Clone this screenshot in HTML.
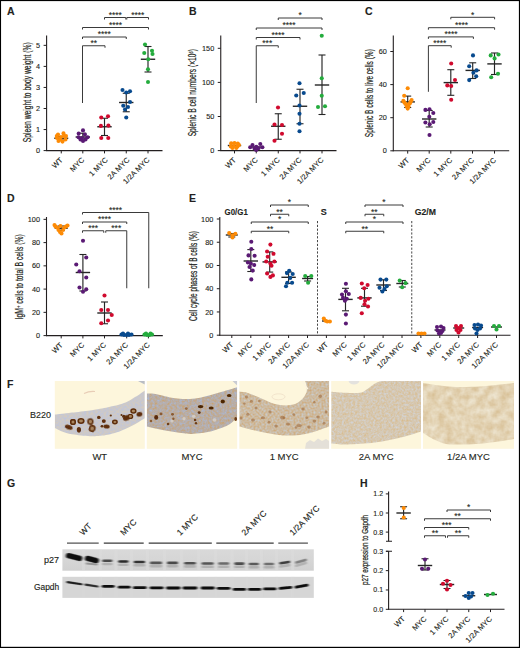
<!DOCTYPE html>
<html><head><meta charset="utf-8"><style>
html,body{margin:0;padding:0;background:#fff;}
svg{display:block;}
text{font-family:"Liberation Sans",sans-serif;}
</style></head><body>
<svg width="520" height="648" viewBox="0 0 520 648" style='font-family:"Liberation Sans",sans-serif'>
<rect x="0" y="0" width="520" height="648" fill="#fff"/>
<text x="7.1" y="15" font-size="10.5" text-anchor="start" font-weight="bold" fill="#231f20" stroke="#231f20" stroke-width="0.12">A</text>
<line x1="46.6" y1="35.5" x2="46.6" y2="151.1" stroke="#231f20" stroke-width="1.1"/>
<line x1="43.6" y1="150.6" x2="46.6" y2="150.6" stroke="#231f20" stroke-width="1"/>
<text x="40.1" y="153.2" font-size="7.3" text-anchor="end" fill="#231f20" stroke="#231f20" stroke-width="0.12">0</text>
<line x1="43.6" y1="129.55" x2="46.6" y2="129.55" stroke="#231f20" stroke-width="1"/>
<text x="40.1" y="132.15" font-size="7.3" text-anchor="end" fill="#231f20" stroke="#231f20" stroke-width="0.12">1</text>
<line x1="43.6" y1="108.5" x2="46.6" y2="108.5" stroke="#231f20" stroke-width="1"/>
<text x="40.1" y="111.1" font-size="7.3" text-anchor="end" fill="#231f20" stroke="#231f20" stroke-width="0.12">2</text>
<line x1="43.6" y1="87.45" x2="46.6" y2="87.45" stroke="#231f20" stroke-width="1"/>
<text x="40.1" y="90.05" font-size="7.3" text-anchor="end" fill="#231f20" stroke="#231f20" stroke-width="0.12">3</text>
<line x1="43.6" y1="66.4" x2="46.6" y2="66.4" stroke="#231f20" stroke-width="1"/>
<text x="40.1" y="69" font-size="7.3" text-anchor="end" fill="#231f20" stroke="#231f20" stroke-width="0.12">4</text>
<line x1="43.6" y1="45.35" x2="46.6" y2="45.35" stroke="#231f20" stroke-width="1"/>
<text x="40.1" y="47.95" font-size="7.3" text-anchor="end" fill="#231f20" stroke="#231f20" stroke-width="0.12">5</text>
<line x1="46.1" y1="150.6" x2="162.5" y2="150.6" stroke="#231f20" stroke-width="1.1"/>
<line x1="61.25" y1="150.6" x2="61.25" y2="153.4" stroke="#231f20" stroke-width="1"/>
<text x="63.25" y="160.5" font-size="7.5" text-anchor="end" fill="#231f20" stroke="#231f20" stroke-width="0.12" transform="rotate(-45 63.25 160.5)">WT</text>
<line x1="82.8" y1="150.6" x2="82.8" y2="153.4" stroke="#231f20" stroke-width="1"/>
<text x="84.8" y="160.5" font-size="7.5" text-anchor="end" fill="#231f20" stroke="#231f20" stroke-width="0.12" transform="rotate(-45 84.8 160.5)">MYC</text>
<line x1="104.5" y1="150.6" x2="104.5" y2="153.4" stroke="#231f20" stroke-width="1"/>
<text x="108.3" y="160.5" font-size="7.5" text-anchor="end" fill="#231f20" stroke="#231f20" stroke-width="0.12" transform="rotate(-45 108.3 160.5)">1 MYC</text>
<line x1="126.25" y1="150.6" x2="126.25" y2="153.4" stroke="#231f20" stroke-width="1"/>
<text x="130.05" y="160.5" font-size="7.5" text-anchor="end" fill="#231f20" stroke="#231f20" stroke-width="0.12" transform="rotate(-45 130.05 160.5)">2A MYC</text>
<line x1="148" y1="150.6" x2="148" y2="153.4" stroke="#231f20" stroke-width="1"/>
<text x="150" y="160.5" font-size="7.5" text-anchor="end" fill="#231f20" stroke="#231f20" stroke-width="0.12" transform="rotate(-45 150 160.5)">1/2A MYC</text>
<text x="31.5" y="92.2" font-size="10" text-anchor="middle" textLength="100" lengthAdjust="spacingAndGlyphs" fill="#231f20" stroke="#231f20" stroke-width="0.22" transform="rotate(-90 31.5 92.2)">Spleen weight to body weight (%)</text>
<line x1="61.25" y1="136.5" x2="61.25" y2="140" stroke="#262626" stroke-width="1.15"/>
<line x1="57.75" y1="136.5" x2="64.75" y2="136.5" stroke="#262626" stroke-width="1.1"/>
<line x1="57.75" y1="140" x2="64.75" y2="140" stroke="#262626" stroke-width="1.1"/>
<line x1="54.25" y1="138.25" x2="68.25" y2="138.25" stroke="#262626" stroke-width="1.4"/>
<line x1="82.8" y1="133.25" x2="82.8" y2="140.5" stroke="#262626" stroke-width="1.15"/>
<line x1="79.3" y1="133.25" x2="86.3" y2="133.25" stroke="#262626" stroke-width="1.1"/>
<line x1="79.3" y1="140.5" x2="86.3" y2="140.5" stroke="#262626" stroke-width="1.1"/>
<line x1="75.6" y1="137" x2="90" y2="137" stroke="#262626" stroke-width="1.4"/>
<line x1="104.5" y1="118.25" x2="104.5" y2="135.5" stroke="#262626" stroke-width="1.15"/>
<line x1="101" y1="118.25" x2="108" y2="118.25" stroke="#262626" stroke-width="1.1"/>
<line x1="101" y1="135.5" x2="108" y2="135.5" stroke="#262626" stroke-width="1.1"/>
<line x1="97.3" y1="126.75" x2="111.7" y2="126.75" stroke="#262626" stroke-width="1.4"/>
<line x1="126.25" y1="93.25" x2="126.25" y2="111.75" stroke="#262626" stroke-width="1.15"/>
<line x1="122.75" y1="93.25" x2="129.75" y2="93.25" stroke="#262626" stroke-width="1.1"/>
<line x1="122.75" y1="111.75" x2="129.75" y2="111.75" stroke="#262626" stroke-width="1.1"/>
<line x1="119.05" y1="102.5" x2="133.45" y2="102.5" stroke="#262626" stroke-width="1.4"/>
<line x1="148" y1="46.5" x2="148" y2="72" stroke="#262626" stroke-width="1.15"/>
<line x1="144.5" y1="46.5" x2="151.5" y2="46.5" stroke="#262626" stroke-width="1.1"/>
<line x1="144.5" y1="72" x2="151.5" y2="72" stroke="#262626" stroke-width="1.1"/>
<line x1="140.8" y1="59.25" x2="155.2" y2="59.25" stroke="#262626" stroke-width="1.4"/>
<path d="M82.5 103V45.75H105V47.75" fill="none" stroke="#3a3a3a" stroke-width="1" stroke-linejoin="round"/>
<text x="93.75" y="46.05" font-size="8.4" text-anchor="middle" fill="#231f20" stroke="#231f20" stroke-width="0.12">**</text>
<path d="M82.5 39V37H126.25V39" fill="none" stroke="#3a3a3a" stroke-width="1" stroke-linejoin="round"/>
<text x="104.38" y="37.3" font-size="8.4" text-anchor="middle" fill="#231f20" stroke="#231f20" stroke-width="0.12">****</text>
<path d="M82.5 29.5V27.5H148.5V29.5" fill="none" stroke="#3a3a3a" stroke-width="1" stroke-linejoin="round"/>
<text x="115.5" y="27.8" font-size="8.4" text-anchor="middle" fill="#231f20" stroke="#231f20" stroke-width="0.12">****</text>
<path d="M104.5 19.5V17.5H125.8V19.5" fill="none" stroke="#3a3a3a" stroke-width="1" stroke-linejoin="round"/>
<text x="115.15" y="17.8" font-size="8.4" text-anchor="middle" fill="#231f20" stroke="#231f20" stroke-width="0.12">****</text>
<path d="M126.8 19.5V17.5H148.5V19.5" fill="none" stroke="#3a3a3a" stroke-width="1" stroke-linejoin="round"/>
<text x="137.65" y="17.8" font-size="8.4" text-anchor="middle" fill="#231f20" stroke="#231f20" stroke-width="0.12">****</text>
<text x="189.1" y="15" font-size="10.5" text-anchor="start" font-weight="bold" fill="#231f20" stroke="#231f20" stroke-width="0.12">B</text>
<line x1="220.75" y1="35.5" x2="220.75" y2="151.1" stroke="#231f20" stroke-width="1.1"/>
<line x1="217.75" y1="150.6" x2="220.75" y2="150.6" stroke="#231f20" stroke-width="1"/>
<text x="214.25" y="153.2" font-size="7.3" text-anchor="end" fill="#231f20" stroke="#231f20" stroke-width="0.12">0</text>
<line x1="217.75" y1="116.5" x2="220.75" y2="116.5" stroke="#231f20" stroke-width="1"/>
<text x="214.25" y="119.1" font-size="7.3" text-anchor="end" fill="#231f20" stroke="#231f20" stroke-width="0.12">50</text>
<line x1="217.75" y1="82.4" x2="220.75" y2="82.4" stroke="#231f20" stroke-width="1"/>
<text x="214.25" y="85" font-size="7.3" text-anchor="end" fill="#231f20" stroke="#231f20" stroke-width="0.12">100</text>
<line x1="217.75" y1="48.3" x2="220.75" y2="48.3" stroke="#231f20" stroke-width="1"/>
<text x="214.25" y="50.9" font-size="7.3" text-anchor="end" fill="#231f20" stroke="#231f20" stroke-width="0.12">150</text>
<line x1="220.25" y1="150.6" x2="336.5" y2="150.6" stroke="#231f20" stroke-width="1.1"/>
<line x1="234.5" y1="150.6" x2="234.5" y2="153.4" stroke="#231f20" stroke-width="1"/>
<text x="236.5" y="160.5" font-size="7.5" text-anchor="end" fill="#231f20" stroke="#231f20" stroke-width="0.12" transform="rotate(-45 236.5 160.5)">WT</text>
<line x1="256.25" y1="150.6" x2="256.25" y2="153.4" stroke="#231f20" stroke-width="1"/>
<text x="258.25" y="160.5" font-size="7.5" text-anchor="end" fill="#231f20" stroke="#231f20" stroke-width="0.12" transform="rotate(-45 258.25 160.5)">MYC</text>
<line x1="278.25" y1="150.6" x2="278.25" y2="153.4" stroke="#231f20" stroke-width="1"/>
<text x="280.25" y="160.5" font-size="7.5" text-anchor="end" fill="#231f20" stroke="#231f20" stroke-width="0.12" transform="rotate(-45 280.25 160.5)">1 MYC</text>
<line x1="300" y1="150.6" x2="300" y2="153.4" stroke="#231f20" stroke-width="1"/>
<text x="302" y="160.5" font-size="7.5" text-anchor="end" fill="#231f20" stroke="#231f20" stroke-width="0.12" transform="rotate(-45 302 160.5)">2A MYC</text>
<line x1="322" y1="150.6" x2="322" y2="153.4" stroke="#231f20" stroke-width="1"/>
<text x="324" y="160.5" font-size="7.5" text-anchor="end" fill="#231f20" stroke="#231f20" stroke-width="0.12" transform="rotate(-45 324 160.5)">1/2A MYC</text>
<text x="196" y="92.7" font-size="10" text-anchor="middle" textLength="87.3" lengthAdjust="spacingAndGlyphs" fill="#231f20" stroke="#231f20" stroke-width="0.22" transform="rotate(-90 196 92.7)">Splenic B cell numbers (×10<tspan font-size="6" dy="-3">6</tspan><tspan dy="3">)</tspan></text>
<line x1="227.8" y1="145.5" x2="241.2" y2="145.5" stroke="#262626" stroke-width="1.4"/>
<line x1="249.55" y1="147" x2="262.95" y2="147" stroke="#262626" stroke-width="1.4"/>
<line x1="278.25" y1="113.75" x2="278.25" y2="139.25" stroke="#262626" stroke-width="1.15"/>
<line x1="274.75" y1="113.75" x2="281.75" y2="113.75" stroke="#262626" stroke-width="1.1"/>
<line x1="274.75" y1="139.25" x2="281.75" y2="139.25" stroke="#262626" stroke-width="1.1"/>
<line x1="271.05" y1="126.25" x2="285.45" y2="126.25" stroke="#262626" stroke-width="1.4"/>
<line x1="300" y1="89.25" x2="300" y2="123.75" stroke="#262626" stroke-width="1.15"/>
<line x1="296.5" y1="89.25" x2="303.5" y2="89.25" stroke="#262626" stroke-width="1.1"/>
<line x1="296.5" y1="123.75" x2="303.5" y2="123.75" stroke="#262626" stroke-width="1.1"/>
<line x1="292.8" y1="106.25" x2="307.2" y2="106.25" stroke="#262626" stroke-width="1.4"/>
<line x1="322" y1="55" x2="322" y2="114.5" stroke="#262626" stroke-width="1.15"/>
<line x1="318.5" y1="55" x2="325.5" y2="55" stroke="#262626" stroke-width="1.1"/>
<line x1="318.5" y1="114.5" x2="325.5" y2="114.5" stroke="#262626" stroke-width="1.1"/>
<line x1="314.8" y1="85" x2="329.2" y2="85" stroke="#262626" stroke-width="1.4"/>
<path d="M256.25 103V45.75H278.25V47.75" fill="none" stroke="#3a3a3a" stroke-width="1" stroke-linejoin="round"/>
<text x="267.25" y="46.05" font-size="8.4" text-anchor="middle" fill="#231f20" stroke="#231f20" stroke-width="0.12">***</text>
<path d="M256.25 39.5V37.5H300V39.5" fill="none" stroke="#3a3a3a" stroke-width="1" stroke-linejoin="round"/>
<text x="278.12" y="37.8" font-size="8.4" text-anchor="middle" fill="#231f20" stroke="#231f20" stroke-width="0.12">****</text>
<path d="M256.25 30V28H322V30" fill="none" stroke="#3a3a3a" stroke-width="1" stroke-linejoin="round"/>
<text x="289.12" y="28.3" font-size="8.4" text-anchor="middle" fill="#231f20" stroke="#231f20" stroke-width="0.12">****</text>
<path d="M278.25 20V18H322V20" fill="none" stroke="#3a3a3a" stroke-width="1" stroke-linejoin="round"/>
<text x="300.12" y="18.3" font-size="8.4" text-anchor="middle" fill="#231f20" stroke="#231f20" stroke-width="0.12">*</text>
<text x="365.1" y="15" font-size="10.5" text-anchor="start" font-weight="bold" fill="#231f20" stroke="#231f20" stroke-width="0.12">C</text>
<line x1="393.3" y1="35.5" x2="393.3" y2="151.3" stroke="#231f20" stroke-width="1.1"/>
<line x1="390.3" y1="150.8" x2="393.3" y2="150.8" stroke="#231f20" stroke-width="1"/>
<text x="386.8" y="153.4" font-size="7.3" text-anchor="end" fill="#231f20" stroke="#231f20" stroke-width="0.12">0</text>
<line x1="390.3" y1="117.7" x2="393.3" y2="117.7" stroke="#231f20" stroke-width="1"/>
<text x="386.8" y="120.3" font-size="7.3" text-anchor="end" fill="#231f20" stroke="#231f20" stroke-width="0.12">20</text>
<line x1="390.3" y1="84.6" x2="393.3" y2="84.6" stroke="#231f20" stroke-width="1"/>
<text x="386.8" y="87.2" font-size="7.3" text-anchor="end" fill="#231f20" stroke="#231f20" stroke-width="0.12">40</text>
<line x1="390.3" y1="51.5" x2="393.3" y2="51.5" stroke="#231f20" stroke-width="1"/>
<text x="386.8" y="54.1" font-size="7.3" text-anchor="end" fill="#231f20" stroke="#231f20" stroke-width="0.12">60</text>
<line x1="392.8" y1="150.8" x2="509.2" y2="150.8" stroke="#231f20" stroke-width="1.1"/>
<line x1="407.7" y1="150.8" x2="407.7" y2="153.6" stroke="#231f20" stroke-width="1"/>
<text x="409.7" y="160.7" font-size="7.5" text-anchor="end" fill="#231f20" stroke="#231f20" stroke-width="0.12" transform="rotate(-45 409.7 160.7)">WT</text>
<line x1="429.2" y1="150.8" x2="429.2" y2="153.6" stroke="#231f20" stroke-width="1"/>
<text x="431.2" y="160.7" font-size="7.5" text-anchor="end" fill="#231f20" stroke="#231f20" stroke-width="0.12" transform="rotate(-45 431.2 160.7)">MYC</text>
<line x1="450.8" y1="150.8" x2="450.8" y2="153.6" stroke="#231f20" stroke-width="1"/>
<text x="452.8" y="160.7" font-size="7.5" text-anchor="end" fill="#231f20" stroke="#231f20" stroke-width="0.12" transform="rotate(-45 452.8 160.7)">1 MYC</text>
<line x1="472.5" y1="150.8" x2="472.5" y2="153.6" stroke="#231f20" stroke-width="1"/>
<text x="474.5" y="160.7" font-size="7.5" text-anchor="end" fill="#231f20" stroke="#231f20" stroke-width="0.12" transform="rotate(-45 474.5 160.7)">2A MYC</text>
<line x1="494.5" y1="150.8" x2="494.5" y2="153.6" stroke="#231f20" stroke-width="1"/>
<text x="496.5" y="160.7" font-size="7.5" text-anchor="end" fill="#231f20" stroke="#231f20" stroke-width="0.12" transform="rotate(-45 496.5 160.7)">1/2A MYC</text>
<text x="373" y="93.2" font-size="10" text-anchor="middle" textLength="88" lengthAdjust="spacingAndGlyphs" fill="#231f20" stroke="#231f20" stroke-width="0.22" transform="rotate(-90 373 93.2)">Splenic B cells to live cells (%)</text>
<line x1="407.7" y1="96.1" x2="407.7" y2="107.5" stroke="#262626" stroke-width="1.15"/>
<line x1="404.2" y1="96.1" x2="411.2" y2="96.1" stroke="#262626" stroke-width="1.1"/>
<line x1="404.2" y1="107.5" x2="411.2" y2="107.5" stroke="#262626" stroke-width="1.1"/>
<line x1="400.5" y1="101.9" x2="414.9" y2="101.9" stroke="#262626" stroke-width="1.4"/>
<line x1="429.2" y1="110.5" x2="429.2" y2="127" stroke="#262626" stroke-width="1.15"/>
<line x1="425.7" y1="110.5" x2="432.7" y2="110.5" stroke="#262626" stroke-width="1.1"/>
<line x1="425.7" y1="127" x2="432.7" y2="127" stroke="#262626" stroke-width="1.1"/>
<line x1="422" y1="119" x2="436.4" y2="119" stroke="#262626" stroke-width="1.4"/>
<line x1="450.8" y1="69.7" x2="450.8" y2="95.3" stroke="#262626" stroke-width="1.15"/>
<line x1="447.3" y1="69.7" x2="454.3" y2="69.7" stroke="#262626" stroke-width="1.1"/>
<line x1="447.3" y1="95.3" x2="454.3" y2="95.3" stroke="#262626" stroke-width="1.1"/>
<line x1="443.6" y1="82.6" x2="458" y2="82.6" stroke="#262626" stroke-width="1.4"/>
<line x1="472.7" y1="62.8" x2="472.7" y2="78.5" stroke="#262626" stroke-width="1.15"/>
<line x1="469.2" y1="62.8" x2="476.2" y2="62.8" stroke="#262626" stroke-width="1.1"/>
<line x1="469.2" y1="78.5" x2="476.2" y2="78.5" stroke="#262626" stroke-width="1.1"/>
<line x1="465.5" y1="70.4" x2="479.9" y2="70.4" stroke="#262626" stroke-width="1.4"/>
<line x1="494.5" y1="53" x2="494.5" y2="74.5" stroke="#262626" stroke-width="1.15"/>
<line x1="491" y1="53" x2="498" y2="53" stroke="#262626" stroke-width="1.1"/>
<line x1="491" y1="74.5" x2="498" y2="74.5" stroke="#262626" stroke-width="1.1"/>
<line x1="487.3" y1="63.9" x2="501.7" y2="63.9" stroke="#262626" stroke-width="1.4"/>
<path d="M428.4 91.8V45.7H451.2V47.7" fill="none" stroke="#3a3a3a" stroke-width="1" stroke-linejoin="round"/>
<text x="439.8" y="46" font-size="8.4" text-anchor="middle" fill="#231f20" stroke="#231f20" stroke-width="0.12">****</text>
<path d="M428.4 38.9V36.9H473.4V38.9" fill="none" stroke="#3a3a3a" stroke-width="1" stroke-linejoin="round"/>
<text x="450.9" y="37.2" font-size="8.4" text-anchor="middle" fill="#231f20" stroke="#231f20" stroke-width="0.12">****</text>
<path d="M428.4 29.7V27.7H494.6V29.7" fill="none" stroke="#3a3a3a" stroke-width="1" stroke-linejoin="round"/>
<text x="461.5" y="28" font-size="8.4" text-anchor="middle" fill="#231f20" stroke="#231f20" stroke-width="0.12">****</text>
<path d="M450.8 19.3V17.3H494.6V19.3" fill="none" stroke="#3a3a3a" stroke-width="1" stroke-linejoin="round"/>
<text x="472.7" y="17.6" font-size="8.4" text-anchor="middle" fill="#231f20" stroke="#231f20" stroke-width="0.12">*</text>
<text x="7.1" y="201.5" font-size="10.5" text-anchor="start" font-weight="bold" fill="#231f20" stroke="#231f20" stroke-width="0.12">D</text>
<line x1="46.5" y1="217" x2="46.5" y2="336.1" stroke="#231f20" stroke-width="1.1"/>
<line x1="43.5" y1="335.6" x2="46.5" y2="335.6" stroke="#231f20" stroke-width="1"/>
<text x="40" y="338.2" font-size="7.3" text-anchor="end" fill="#231f20" stroke="#231f20" stroke-width="0.12">0</text>
<line x1="43.5" y1="312.35" x2="46.5" y2="312.35" stroke="#231f20" stroke-width="1"/>
<text x="40" y="314.95" font-size="7.3" text-anchor="end" fill="#231f20" stroke="#231f20" stroke-width="0.12">20</text>
<line x1="43.5" y1="289.1" x2="46.5" y2="289.1" stroke="#231f20" stroke-width="1"/>
<text x="40" y="291.7" font-size="7.3" text-anchor="end" fill="#231f20" stroke="#231f20" stroke-width="0.12">40</text>
<line x1="43.5" y1="265.85" x2="46.5" y2="265.85" stroke="#231f20" stroke-width="1"/>
<text x="40" y="268.45" font-size="7.3" text-anchor="end" fill="#231f20" stroke="#231f20" stroke-width="0.12">60</text>
<line x1="43.5" y1="242.6" x2="46.5" y2="242.6" stroke="#231f20" stroke-width="1"/>
<text x="40" y="245.2" font-size="7.3" text-anchor="end" fill="#231f20" stroke="#231f20" stroke-width="0.12">80</text>
<line x1="43.5" y1="219.35" x2="46.5" y2="219.35" stroke="#231f20" stroke-width="1"/>
<text x="40" y="221.95" font-size="7.3" text-anchor="end" fill="#231f20" stroke="#231f20" stroke-width="0.12">100</text>
<line x1="46" y1="335.6" x2="162.8" y2="335.6" stroke="#231f20" stroke-width="1.1"/>
<line x1="61.2" y1="335.6" x2="61.2" y2="338.4" stroke="#231f20" stroke-width="1"/>
<text x="63.2" y="345.5" font-size="7.5" text-anchor="end" fill="#231f20" stroke="#231f20" stroke-width="0.12" transform="rotate(-45 63.2 345.5)">WT</text>
<line x1="82.9" y1="335.6" x2="82.9" y2="338.4" stroke="#231f20" stroke-width="1"/>
<text x="84.9" y="345.5" font-size="7.5" text-anchor="end" fill="#231f20" stroke="#231f20" stroke-width="0.12" transform="rotate(-45 84.9 345.5)">MYC</text>
<line x1="104.5" y1="335.6" x2="104.5" y2="338.4" stroke="#231f20" stroke-width="1"/>
<text x="106.5" y="345.5" font-size="7.5" text-anchor="end" fill="#231f20" stroke="#231f20" stroke-width="0.12" transform="rotate(-45 106.5 345.5)">1 MYC</text>
<line x1="126.7" y1="335.6" x2="126.7" y2="338.4" stroke="#231f20" stroke-width="1"/>
<text x="128.7" y="345.5" font-size="7.5" text-anchor="end" fill="#231f20" stroke="#231f20" stroke-width="0.12" transform="rotate(-45 128.7 345.5)">2A MYC</text>
<line x1="148.4" y1="335.6" x2="148.4" y2="338.4" stroke="#231f20" stroke-width="1"/>
<text x="150.4" y="345.5" font-size="7.5" text-anchor="end" fill="#231f20" stroke="#231f20" stroke-width="0.12" transform="rotate(-45 150.4 345.5)">1/2A MYC</text>
<text x="23.5" y="276.8" font-size="10" text-anchor="middle" textLength="85" lengthAdjust="spacingAndGlyphs" fill="#231f20" stroke="#231f20" stroke-width="0.22" transform="rotate(-90 23.5 276.8)">IgM<tspan font-size="6" dy="-3">+</tspan><tspan dy="3"> cells to total B cells (%)</tspan></text>
<line x1="61.2" y1="226" x2="61.2" y2="230.5" stroke="#262626" stroke-width="1.15"/>
<line x1="57.7" y1="226" x2="64.7" y2="226" stroke="#262626" stroke-width="1.1"/>
<line x1="57.7" y1="230.5" x2="64.7" y2="230.5" stroke="#262626" stroke-width="1.1"/>
<line x1="54.7" y1="228.25" x2="67.7" y2="228.25" stroke="#262626" stroke-width="1.4"/>
<line x1="82.9" y1="254.5" x2="82.9" y2="291" stroke="#262626" stroke-width="1.15"/>
<line x1="79.4" y1="254.5" x2="86.4" y2="254.5" stroke="#262626" stroke-width="1.1"/>
<line x1="79.4" y1="291" x2="86.4" y2="291" stroke="#262626" stroke-width="1.1"/>
<line x1="75.7" y1="272.5" x2="90.1" y2="272.5" stroke="#262626" stroke-width="1.4"/>
<line x1="104.5" y1="302" x2="104.5" y2="323.75" stroke="#262626" stroke-width="1.15"/>
<line x1="101" y1="302" x2="108" y2="302" stroke="#262626" stroke-width="1.1"/>
<line x1="101" y1="323.75" x2="108" y2="323.75" stroke="#262626" stroke-width="1.1"/>
<line x1="97.3" y1="313" x2="111.7" y2="313" stroke="#262626" stroke-width="1.4"/>
<line x1="121.7" y1="335" x2="131.7" y2="335" stroke="#262626" stroke-width="1.4"/>
<line x1="143.4" y1="335" x2="153.4" y2="335" stroke="#262626" stroke-width="1.4"/>
<path d="M82.5 232.75V230.75H103.75V232.75" fill="none" stroke="#3a3a3a" stroke-width="1" stroke-linejoin="round"/>
<text x="93.12" y="231.05" font-size="8.4" text-anchor="middle" fill="#231f20" stroke="#231f20" stroke-width="0.12">***</text>
<path d="M105.75 232.75V230.75H126.75V288.25" fill="none" stroke="#3a3a3a" stroke-width="1" stroke-linejoin="round"/>
<text x="116.25" y="231.05" font-size="8.4" text-anchor="middle" fill="#231f20" stroke="#231f20" stroke-width="0.12">***</text>
<path d="M82.5 224V222H126.75V224" fill="none" stroke="#3a3a3a" stroke-width="1" stroke-linejoin="round"/>
<text x="104.62" y="222.3" font-size="8.4" text-anchor="middle" fill="#231f20" stroke="#231f20" stroke-width="0.12">****</text>
<path d="M82.5 214.5V212.5H148.75V288.25" fill="none" stroke="#3a3a3a" stroke-width="1" stroke-linejoin="round"/>
<text x="115.62" y="212.8" font-size="8.4" text-anchor="middle" fill="#231f20" stroke="#231f20" stroke-width="0.12">****</text>
<text x="189.1" y="201.5" font-size="10.5" text-anchor="start" font-weight="bold" fill="#231f20" stroke="#231f20" stroke-width="0.12">E</text>
<line x1="219.8" y1="217" x2="219.8" y2="335.7" stroke="#231f20" stroke-width="1.1"/>
<line x1="216.8" y1="335.2" x2="219.8" y2="335.2" stroke="#231f20" stroke-width="1"/>
<text x="213.3" y="337.8" font-size="7.3" text-anchor="end" fill="#231f20" stroke="#231f20" stroke-width="0.12">0</text>
<line x1="216.8" y1="311.96" x2="219.8" y2="311.96" stroke="#231f20" stroke-width="1"/>
<text x="213.3" y="314.56" font-size="7.3" text-anchor="end" fill="#231f20" stroke="#231f20" stroke-width="0.12">20</text>
<line x1="216.8" y1="288.72" x2="219.8" y2="288.72" stroke="#231f20" stroke-width="1"/>
<text x="213.3" y="291.32" font-size="7.3" text-anchor="end" fill="#231f20" stroke="#231f20" stroke-width="0.12">40</text>
<line x1="216.8" y1="265.48" x2="219.8" y2="265.48" stroke="#231f20" stroke-width="1"/>
<text x="213.3" y="268.08" font-size="7.3" text-anchor="end" fill="#231f20" stroke="#231f20" stroke-width="0.12">60</text>
<line x1="216.8" y1="242.24" x2="219.8" y2="242.24" stroke="#231f20" stroke-width="1"/>
<text x="213.3" y="244.84" font-size="7.3" text-anchor="end" fill="#231f20" stroke="#231f20" stroke-width="0.12">80</text>
<line x1="216.8" y1="219" x2="219.8" y2="219" stroke="#231f20" stroke-width="1"/>
<text x="213.3" y="221.6" font-size="7.3" text-anchor="end" fill="#231f20" stroke="#231f20" stroke-width="0.12">100</text>
<line x1="219.3" y1="335.2" x2="510.5" y2="335.2" stroke="#231f20" stroke-width="1.1"/>
<line x1="231.8" y1="335.2" x2="231.8" y2="338" stroke="#231f20" stroke-width="1"/>
<text x="233.8" y="345.1" font-size="7.5" text-anchor="end" fill="#231f20" stroke="#231f20" stroke-width="0.12" transform="rotate(-45 233.8 345.1)">WT</text>
<line x1="250.8" y1="335.2" x2="250.8" y2="338" stroke="#231f20" stroke-width="1"/>
<text x="252.8" y="345.1" font-size="7.5" text-anchor="end" fill="#231f20" stroke="#231f20" stroke-width="0.12" transform="rotate(-45 252.8 345.1)">MYC</text>
<line x1="269.7" y1="335.2" x2="269.7" y2="338" stroke="#231f20" stroke-width="1"/>
<text x="271.7" y="345.1" font-size="7.5" text-anchor="end" fill="#231f20" stroke="#231f20" stroke-width="0.12" transform="rotate(-45 271.7 345.1)">1 MYC</text>
<line x1="288.6" y1="335.2" x2="288.6" y2="338" stroke="#231f20" stroke-width="1"/>
<text x="290.6" y="345.1" font-size="7.5" text-anchor="end" fill="#231f20" stroke="#231f20" stroke-width="0.12" transform="rotate(-45 290.6 345.1)">2A MYC</text>
<line x1="307.5" y1="335.2" x2="307.5" y2="338" stroke="#231f20" stroke-width="1"/>
<text x="309.5" y="345.1" font-size="7.5" text-anchor="end" fill="#231f20" stroke="#231f20" stroke-width="0.12" transform="rotate(-45 309.5 345.1)">1/2A MYC</text>
<line x1="326.4" y1="335.2" x2="326.4" y2="338" stroke="#231f20" stroke-width="1"/>
<text x="328.4" y="345.1" font-size="7.5" text-anchor="end" fill="#231f20" stroke="#231f20" stroke-width="0.12" transform="rotate(-45 328.4 345.1)">WT</text>
<line x1="345.3" y1="335.2" x2="345.3" y2="338" stroke="#231f20" stroke-width="1"/>
<text x="347.3" y="345.1" font-size="7.5" text-anchor="end" fill="#231f20" stroke="#231f20" stroke-width="0.12" transform="rotate(-45 347.3 345.1)">MYC</text>
<line x1="364.2" y1="335.2" x2="364.2" y2="338" stroke="#231f20" stroke-width="1"/>
<text x="366.2" y="345.1" font-size="7.5" text-anchor="end" fill="#231f20" stroke="#231f20" stroke-width="0.12" transform="rotate(-45 366.2 345.1)">1 MYC</text>
<line x1="383.1" y1="335.2" x2="383.1" y2="338" stroke="#231f20" stroke-width="1"/>
<text x="385.1" y="345.1" font-size="7.5" text-anchor="end" fill="#231f20" stroke="#231f20" stroke-width="0.12" transform="rotate(-45 385.1 345.1)">2A MYC</text>
<line x1="402" y1="335.2" x2="402" y2="338" stroke="#231f20" stroke-width="1"/>
<text x="404" y="345.1" font-size="7.5" text-anchor="end" fill="#231f20" stroke="#231f20" stroke-width="0.12" transform="rotate(-45 404 345.1)">1/2A MYC</text>
<line x1="420.9" y1="335.2" x2="420.9" y2="338" stroke="#231f20" stroke-width="1"/>
<text x="422.9" y="345.1" font-size="7.5" text-anchor="end" fill="#231f20" stroke="#231f20" stroke-width="0.12" transform="rotate(-45 422.9 345.1)">WT</text>
<line x1="439.8" y1="335.2" x2="439.8" y2="338" stroke="#231f20" stroke-width="1"/>
<text x="441.8" y="345.1" font-size="7.5" text-anchor="end" fill="#231f20" stroke="#231f20" stroke-width="0.12" transform="rotate(-45 441.8 345.1)">MYC</text>
<line x1="458.7" y1="335.2" x2="458.7" y2="338" stroke="#231f20" stroke-width="1"/>
<text x="460.7" y="345.1" font-size="7.5" text-anchor="end" fill="#231f20" stroke="#231f20" stroke-width="0.12" transform="rotate(-45 460.7 345.1)">1 MYC</text>
<line x1="477.6" y1="335.2" x2="477.6" y2="338" stroke="#231f20" stroke-width="1"/>
<text x="479.6" y="345.1" font-size="7.5" text-anchor="end" fill="#231f20" stroke="#231f20" stroke-width="0.12" transform="rotate(-45 479.6 345.1)">2A MYC</text>
<line x1="496.5" y1="335.2" x2="496.5" y2="338" stroke="#231f20" stroke-width="1"/>
<text x="498.5" y="345.1" font-size="7.5" text-anchor="end" fill="#231f20" stroke="#231f20" stroke-width="0.12" transform="rotate(-45 498.5 345.1)">1/2A MYC</text>
<text x="196.5" y="276" font-size="10" text-anchor="middle" textLength="90" lengthAdjust="spacingAndGlyphs" fill="#231f20" stroke="#231f20" stroke-width="0.22" transform="rotate(-90 196.5 276)">Cell cycle phases of B cells (%)</text>
<text x="224.6" y="215.2" font-size="9" text-anchor="start" font-weight="bold" fill="#231f20" stroke="#231f20" stroke-width="0.12" textLength="23.2" lengthAdjust="spacingAndGlyphs">G0/G1</text>
<text x="320.8" y="215.2" font-size="9" text-anchor="start" font-weight="bold" fill="#231f20" stroke="#231f20" stroke-width="0.12">S</text>
<text x="414.8" y="215.2" font-size="9" text-anchor="start" font-weight="bold" fill="#231f20" stroke="#231f20" stroke-width="0.12" textLength="21.2" lengthAdjust="spacingAndGlyphs">G2/M</text>
<line x1="317.5" y1="221" x2="317.5" y2="335.2" stroke="#333" stroke-width="0.9" stroke-dasharray="2.2 1.6"/>
<line x1="411.75" y1="221" x2="411.75" y2="335.2" stroke="#333" stroke-width="0.9" stroke-dasharray="2.2 1.6"/>
<line x1="231.8" y1="233.5" x2="231.8" y2="237" stroke="#262626" stroke-width="1.15"/>
<line x1="228.3" y1="233.5" x2="235.3" y2="233.5" stroke="#262626" stroke-width="1.1"/>
<line x1="228.3" y1="237" x2="235.3" y2="237" stroke="#262626" stroke-width="1.1"/>
<line x1="225.8" y1="235" x2="237.8" y2="235" stroke="#262626" stroke-width="1.4"/>
<line x1="250.8" y1="249.6" x2="250.8" y2="271.5" stroke="#262626" stroke-width="1.15"/>
<line x1="247.3" y1="249.6" x2="254.3" y2="249.6" stroke="#262626" stroke-width="1.1"/>
<line x1="247.3" y1="271.5" x2="254.3" y2="271.5" stroke="#262626" stroke-width="1.1"/>
<line x1="243.6" y1="261" x2="258" y2="261" stroke="#262626" stroke-width="1.4"/>
<line x1="269.7" y1="251.9" x2="269.7" y2="272.1" stroke="#262626" stroke-width="1.15"/>
<line x1="266.2" y1="251.9" x2="273.2" y2="251.9" stroke="#262626" stroke-width="1.1"/>
<line x1="266.2" y1="272.1" x2="273.2" y2="272.1" stroke="#262626" stroke-width="1.1"/>
<line x1="262.5" y1="261.9" x2="276.9" y2="261.9" stroke="#262626" stroke-width="1.4"/>
<line x1="288.6" y1="272" x2="288.6" y2="283.5" stroke="#262626" stroke-width="1.15"/>
<line x1="285.1" y1="272" x2="292.1" y2="272" stroke="#262626" stroke-width="1.1"/>
<line x1="285.1" y1="283.5" x2="292.1" y2="283.5" stroke="#262626" stroke-width="1.1"/>
<line x1="281.4" y1="277.3" x2="295.8" y2="277.3" stroke="#262626" stroke-width="1.4"/>
<line x1="307.6" y1="276.5" x2="307.6" y2="281" stroke="#262626" stroke-width="1.15"/>
<line x1="304.1" y1="276.5" x2="311.1" y2="276.5" stroke="#262626" stroke-width="1.1"/>
<line x1="304.1" y1="281" x2="311.1" y2="281" stroke="#262626" stroke-width="1.1"/>
<line x1="302.1" y1="278.5" x2="313.1" y2="278.5" stroke="#262626" stroke-width="1.4"/>
<line x1="322" y1="321" x2="331" y2="321" stroke="#262626" stroke-width="1.4"/>
<line x1="345.5" y1="288.3" x2="345.5" y2="310.8" stroke="#262626" stroke-width="1.15"/>
<line x1="342" y1="288.3" x2="349" y2="288.3" stroke="#262626" stroke-width="1.1"/>
<line x1="342" y1="310.8" x2="349" y2="310.8" stroke="#262626" stroke-width="1.1"/>
<line x1="338.3" y1="299.4" x2="352.7" y2="299.4" stroke="#262626" stroke-width="1.4"/>
<line x1="364.5" y1="288.3" x2="364.5" y2="306.2" stroke="#262626" stroke-width="1.15"/>
<line x1="361" y1="288.3" x2="368" y2="288.3" stroke="#262626" stroke-width="1.1"/>
<line x1="361" y1="306.2" x2="368" y2="306.2" stroke="#262626" stroke-width="1.1"/>
<line x1="357.3" y1="297.9" x2="371.7" y2="297.9" stroke="#262626" stroke-width="1.4"/>
<line x1="383.5" y1="279.8" x2="383.5" y2="290.5" stroke="#262626" stroke-width="1.15"/>
<line x1="380" y1="279.8" x2="387" y2="279.8" stroke="#262626" stroke-width="1.1"/>
<line x1="380" y1="290.5" x2="387" y2="290.5" stroke="#262626" stroke-width="1.1"/>
<line x1="376.3" y1="285" x2="390.7" y2="285" stroke="#262626" stroke-width="1.4"/>
<line x1="402.3" y1="280.5" x2="402.3" y2="287" stroke="#262626" stroke-width="1.15"/>
<line x1="398.8" y1="280.5" x2="405.8" y2="280.5" stroke="#262626" stroke-width="1.1"/>
<line x1="398.8" y1="287" x2="405.8" y2="287" stroke="#262626" stroke-width="1.1"/>
<line x1="396.3" y1="283.5" x2="408.3" y2="283.5" stroke="#262626" stroke-width="1.4"/>
<line x1="434.5" y1="330" x2="445.5" y2="330" stroke="#262626" stroke-width="1.4"/>
<line x1="453.2" y1="328" x2="464.2" y2="328" stroke="#262626" stroke-width="1.4"/>
<line x1="472.1" y1="327.5" x2="483.1" y2="327.5" stroke="#262626" stroke-width="1.4"/>
<line x1="491" y1="327" x2="502" y2="327" stroke="#262626" stroke-width="1.4"/>
<path d="M251.25 233.25V231.25H288.75V233.25" fill="none" stroke="#3a3a3a" stroke-width="1" stroke-linejoin="round"/>
<text x="270" y="231.55" font-size="8.4" text-anchor="middle" fill="#231f20" stroke="#231f20" stroke-width="0.12">**</text>
<path d="M251.25 224V222H308.25V224" fill="none" stroke="#3a3a3a" stroke-width="1" stroke-linejoin="round"/>
<text x="279.75" y="222.3" font-size="8.4" text-anchor="middle" fill="#231f20" stroke="#231f20" stroke-width="0.12">*</text>
<path d="M270.5 216.25V214.25H288.75V216.25" fill="none" stroke="#3a3a3a" stroke-width="1" stroke-linejoin="round"/>
<text x="279.62" y="214.55" font-size="8.4" text-anchor="middle" fill="#231f20" stroke="#231f20" stroke-width="0.12">**</text>
<path d="M270.5 207V205H308.25V207" fill="none" stroke="#3a3a3a" stroke-width="1" stroke-linejoin="round"/>
<text x="289.38" y="205.3" font-size="8.4" text-anchor="middle" fill="#231f20" stroke="#231f20" stroke-width="0.12">*</text>
<path d="M345.75 233.25V231.25H383.75V233.25" fill="none" stroke="#3a3a3a" stroke-width="1" stroke-linejoin="round"/>
<text x="364.75" y="231.55" font-size="8.4" text-anchor="middle" fill="#231f20" stroke="#231f20" stroke-width="0.12">**</text>
<path d="M345.75 224V222H403V224" fill="none" stroke="#3a3a3a" stroke-width="1" stroke-linejoin="round"/>
<text x="374.38" y="222.3" font-size="8.4" text-anchor="middle" fill="#231f20" stroke="#231f20" stroke-width="0.12">*</text>
<path d="M365 216.25V214.25H383.75V216.25" fill="none" stroke="#3a3a3a" stroke-width="1" stroke-linejoin="round"/>
<text x="374.38" y="214.55" font-size="8.4" text-anchor="middle" fill="#231f20" stroke="#231f20" stroke-width="0.12">**</text>
<path d="M365 207V205H403V207" fill="none" stroke="#3a3a3a" stroke-width="1" stroke-linejoin="round"/>
<text x="384" y="205.3" font-size="8.4" text-anchor="middle" fill="#231f20" stroke="#231f20" stroke-width="0.12">*</text>
<text x="360.1" y="487" font-size="10.5" text-anchor="start" font-weight="bold" fill="#231f20" stroke="#231f20" stroke-width="0.12">H</text>
<line x1="388.6" y1="491.5" x2="388.6" y2="541.25" stroke="#231f20" stroke-width="1.1"/>
<line x1="386" y1="541.25" x2="392" y2="541.25" stroke="#231f20" stroke-width="1"/>
<line x1="388.6" y1="551.25" x2="388.6" y2="609.8" stroke="#231f20" stroke-width="1.1"/>
<line x1="386" y1="551.25" x2="392" y2="551.25" stroke="#231f20" stroke-width="1"/>
<line x1="385.8" y1="493.9" x2="388.6" y2="493.9" stroke="#231f20" stroke-width="1"/>
<text x="383.1" y="496.4" font-size="7" text-anchor="end" fill="#231f20" stroke="#231f20" stroke-width="0.12">1.2</text>
<line x1="385.8" y1="513" x2="388.6" y2="513" stroke="#231f20" stroke-width="1"/>
<text x="383.1" y="515.5" font-size="7" text-anchor="end" fill="#231f20" stroke="#231f20" stroke-width="0.12">1.0</text>
<line x1="385.8" y1="532.1" x2="388.6" y2="532.1" stroke="#231f20" stroke-width="1"/>
<text x="383.1" y="534.6" font-size="7" text-anchor="end" fill="#231f20" stroke="#231f20" stroke-width="0.12">0.8</text>
<line x1="385.8" y1="551.31" x2="388.6" y2="551.31" stroke="#231f20" stroke-width="1"/>
<text x="383.1" y="553.81" font-size="7" text-anchor="end" fill="#231f20" stroke="#231f20" stroke-width="0.12">0.3</text>
<line x1="385.8" y1="570.64" x2="388.6" y2="570.64" stroke="#231f20" stroke-width="1"/>
<text x="383.1" y="573.14" font-size="7" text-anchor="end" fill="#231f20" stroke="#231f20" stroke-width="0.12">0.2</text>
<line x1="385.8" y1="589.97" x2="388.6" y2="589.97" stroke="#231f20" stroke-width="1"/>
<text x="383.1" y="592.47" font-size="7" text-anchor="end" fill="#231f20" stroke="#231f20" stroke-width="0.12">0.1</text>
<line x1="385.8" y1="609.3" x2="388.6" y2="609.3" stroke="#231f20" stroke-width="1"/>
<text x="383.1" y="611.8" font-size="7" text-anchor="end" fill="#231f20" stroke="#231f20" stroke-width="0.12">0.0</text>
<line x1="388.1" y1="609.3" x2="504.5" y2="609.3" stroke="#231f20" stroke-width="1.1"/>
<line x1="403.6" y1="609.3" x2="403.6" y2="612.1" stroke="#231f20" stroke-width="1"/>
<text x="405.6" y="619.3" font-size="7.5" text-anchor="end" fill="#231f20" stroke="#231f20" stroke-width="0.12" transform="rotate(-45 405.6 619.3)">WT</text>
<line x1="425" y1="609.3" x2="425" y2="612.1" stroke="#231f20" stroke-width="1"/>
<text x="427" y="619.3" font-size="7.5" text-anchor="end" fill="#231f20" stroke="#231f20" stroke-width="0.12" transform="rotate(-45 427 619.3)">MYC</text>
<line x1="447" y1="609.3" x2="447" y2="612.1" stroke="#231f20" stroke-width="1"/>
<text x="449" y="619.3" font-size="7.5" text-anchor="end" fill="#231f20" stroke="#231f20" stroke-width="0.12" transform="rotate(-45 449 619.3)">1 MYC</text>
<line x1="468.75" y1="609.3" x2="468.75" y2="612.1" stroke="#231f20" stroke-width="1"/>
<text x="470.75" y="619.3" font-size="7.5" text-anchor="end" fill="#231f20" stroke="#231f20" stroke-width="0.12" transform="rotate(-45 470.75 619.3)">2A MYC</text>
<line x1="490.5" y1="609.3" x2="490.5" y2="612.1" stroke="#231f20" stroke-width="1"/>
<text x="492.5" y="619.3" font-size="7.5" text-anchor="end" fill="#231f20" stroke="#231f20" stroke-width="0.12" transform="rotate(-45 492.5 619.3)">1/2A MYC</text>
<text x="367.5" y="550" font-size="8.5" text-anchor="middle" textLength="70" lengthAdjust="spacingAndGlyphs" fill="#231f20" stroke="#231f20" stroke-width="0.22" transform="rotate(-90 367.5 550)">p27 expression to Gapdh</text>
<line x1="403.6" y1="506.75" x2="403.6" y2="518.75" stroke="#262626" stroke-width="1.15"/>
<line x1="400.1" y1="506.75" x2="407.1" y2="506.75" stroke="#262626" stroke-width="1.1"/>
<line x1="400.1" y1="518.75" x2="407.1" y2="518.75" stroke="#262626" stroke-width="1.1"/>
<line x1="396.4" y1="513" x2="410.8" y2="513" stroke="#262626" stroke-width="1.4"/>
<line x1="425" y1="558.75" x2="425" y2="570" stroke="#262626" stroke-width="1.15"/>
<line x1="421.5" y1="558.75" x2="428.5" y2="558.75" stroke="#262626" stroke-width="1.1"/>
<line x1="421.5" y1="570" x2="428.5" y2="570" stroke="#262626" stroke-width="1.1"/>
<line x1="417.8" y1="565.5" x2="432.2" y2="565.5" stroke="#262626" stroke-width="1.4"/>
<line x1="447" y1="580.5" x2="447" y2="588.5" stroke="#262626" stroke-width="1.15"/>
<line x1="443.5" y1="580.5" x2="450.5" y2="580.5" stroke="#262626" stroke-width="1.1"/>
<line x1="443.5" y1="588.5" x2="450.5" y2="588.5" stroke="#262626" stroke-width="1.1"/>
<line x1="439.8" y1="584.5" x2="454.2" y2="584.5" stroke="#262626" stroke-width="1.4"/>
<line x1="462.25" y1="595.75" x2="475.25" y2="595.75" stroke="#262626" stroke-width="1.4"/>
<line x1="484" y1="594.5" x2="497" y2="594.5" stroke="#262626" stroke-width="1.4"/>
<path d="M424.5 537.75V535.75H445.5V537.75" fill="none" stroke="#3a3a3a" stroke-width="1" stroke-linejoin="round"/>
<text x="435" y="536.05" font-size="8.4" text-anchor="middle" fill="#231f20" stroke="#231f20" stroke-width="0.12">**</text>
<path d="M447.5 537.75V535.75H468.75V537.75" fill="none" stroke="#3a3a3a" stroke-width="1" stroke-linejoin="round"/>
<text x="458.12" y="536.05" font-size="8.4" text-anchor="middle" fill="#231f20" stroke="#231f20" stroke-width="0.12">**</text>
<path d="M424.5 529.5V527.5H468.75V529.5" fill="none" stroke="#3a3a3a" stroke-width="1" stroke-linejoin="round"/>
<text x="446.62" y="527.8" font-size="8.4" text-anchor="middle" fill="#231f20" stroke="#231f20" stroke-width="0.12">***</text>
<path d="M424.5 520.75V518.75H490.5V520.75" fill="none" stroke="#3a3a3a" stroke-width="1" stroke-linejoin="round"/>
<text x="457.5" y="519.05" font-size="8.4" text-anchor="middle" fill="#231f20" stroke="#231f20" stroke-width="0.12">**</text>
<path d="M447 512V510H490.5V512" fill="none" stroke="#3a3a3a" stroke-width="1" stroke-linejoin="round"/>
<text x="468.75" y="510.3" font-size="8.4" text-anchor="middle" fill="#231f20" stroke="#231f20" stroke-width="0.12">*</text>
<circle cx="58" cy="134.6" r="2.05" fill="#fd8b06"/>
<circle cx="63.5" cy="133.4" r="2.05" fill="#fd8b06"/>
<circle cx="66" cy="136" r="2.05" fill="#fd8b06"/>
<circle cx="57" cy="138" r="2.05" fill="#fd8b06"/>
<circle cx="61" cy="137" r="2.05" fill="#fd8b06"/>
<circle cx="65.5" cy="139.5" r="2.05" fill="#fd8b06"/>
<circle cx="58.5" cy="141" r="2.05" fill="#fd8b06"/>
<circle cx="62.5" cy="141.6" r="2.05" fill="#fd8b06"/>
<circle cx="60" cy="139.5" r="2.05" fill="#fd8b06"/>
<circle cx="64" cy="136" r="2.05" fill="#fd8b06"/>
<circle cx="56.8" cy="136" r="2.05" fill="#fd8b06"/>
<circle cx="83" cy="130.4" r="2.05" fill="#5a1a74"/>
<circle cx="78.7" cy="133.5" r="2.05" fill="#5a1a74"/>
<circle cx="84.9" cy="134.5" r="2.05" fill="#5a1a74"/>
<circle cx="78.5" cy="137.3" r="2.05" fill="#5a1a74"/>
<circle cx="87.6" cy="137.3" r="2.05" fill="#5a1a74"/>
<circle cx="80.5" cy="139.4" r="2.05" fill="#5a1a74"/>
<circle cx="85.5" cy="139.4" r="2.05" fill="#5a1a74"/>
<circle cx="83" cy="141" r="2.05" fill="#5a1a74"/>
<circle cx="82" cy="138" r="2.05" fill="#5a1a74"/>
<circle cx="101.25" cy="117.5" r="2.05" fill="#d00a2e"/>
<circle cx="108" cy="116.25" r="2.05" fill="#d00a2e"/>
<circle cx="100.9" cy="125.9" r="2.05" fill="#d00a2e"/>
<circle cx="108.4" cy="125.6" r="2.05" fill="#d00a2e"/>
<circle cx="101.25" cy="138" r="2.05" fill="#d00a2e"/>
<circle cx="108.25" cy="138" r="2.05" fill="#d00a2e"/>
<circle cx="122.5" cy="90" r="2.05" fill="#084a8e"/>
<circle cx="126.25" cy="92.5" r="2.05" fill="#084a8e"/>
<circle cx="130" cy="91.25" r="2.05" fill="#084a8e"/>
<circle cx="130" cy="102" r="2.05" fill="#084a8e"/>
<circle cx="123.25" cy="105.75" r="2.05" fill="#084a8e"/>
<circle cx="125" cy="109.5" r="2.05" fill="#084a8e"/>
<circle cx="128" cy="107" r="2.05" fill="#084a8e"/>
<circle cx="126.25" cy="117.5" r="2.05" fill="#084a8e"/>
<circle cx="145" cy="44.5" r="2.05" fill="#24ac3d"/>
<circle cx="144.25" cy="53" r="2.05" fill="#24ac3d"/>
<circle cx="152" cy="50.75" r="2.05" fill="#24ac3d"/>
<circle cx="152.5" cy="54" r="2.05" fill="#24ac3d"/>
<circle cx="148.25" cy="59.25" r="2.05" fill="#24ac3d"/>
<circle cx="148" cy="69.25" r="2.05" fill="#24ac3d"/>
<circle cx="148" cy="82" r="2.05" fill="#24ac3d"/>
<circle cx="231.2" cy="143.3" r="2.05" fill="#fd8b06"/>
<circle cx="234.5" cy="143" r="2.05" fill="#fd8b06"/>
<circle cx="237.8" cy="143.5" r="2.05" fill="#fd8b06"/>
<circle cx="230.8" cy="146.5" r="2.05" fill="#fd8b06"/>
<circle cx="234" cy="146" r="2.05" fill="#fd8b06"/>
<circle cx="237.5" cy="146.5" r="2.05" fill="#fd8b06"/>
<circle cx="239" cy="145" r="2.05" fill="#fd8b06"/>
<circle cx="232.5" cy="148" r="2.05" fill="#fd8b06"/>
<circle cx="236.3" cy="148" r="2.05" fill="#fd8b06"/>
<circle cx="252.5" cy="145" r="2.05" fill="#5a1a74"/>
<circle cx="260.3" cy="144" r="2.05" fill="#5a1a74"/>
<circle cx="250.2" cy="147.3" r="2.05" fill="#5a1a74"/>
<circle cx="262.4" cy="147.3" r="2.05" fill="#5a1a74"/>
<circle cx="254.5" cy="148.5" r="2.05" fill="#5a1a74"/>
<circle cx="258.5" cy="148.2" r="2.05" fill="#5a1a74"/>
<circle cx="256.2" cy="150" r="2.05" fill="#5a1a74"/>
<circle cx="256.3" cy="146.8" r="2.05" fill="#5a1a74"/>
<circle cx="278" cy="107.5" r="2.05" fill="#d00a2e"/>
<circle cx="274.5" cy="124.5" r="2.05" fill="#d00a2e"/>
<circle cx="282" cy="125" r="2.05" fill="#d00a2e"/>
<circle cx="282" cy="133.75" r="2.05" fill="#d00a2e"/>
<circle cx="274.5" cy="140.75" r="2.05" fill="#d00a2e"/>
<circle cx="299.5" cy="83.25" r="2.05" fill="#084a8e"/>
<circle cx="296.25" cy="95.5" r="2.05" fill="#084a8e"/>
<circle cx="303.75" cy="93" r="2.05" fill="#084a8e"/>
<circle cx="299.5" cy="105.5" r="2.05" fill="#084a8e"/>
<circle cx="299.5" cy="113.75" r="2.05" fill="#084a8e"/>
<circle cx="299.5" cy="123.75" r="2.05" fill="#084a8e"/>
<circle cx="299.5" cy="131.25" r="2.05" fill="#084a8e"/>
<circle cx="321.75" cy="35.75" r="2.05" fill="#24ac3d"/>
<circle cx="321.75" cy="78.25" r="2.05" fill="#24ac3d"/>
<circle cx="321.75" cy="95.75" r="2.05" fill="#24ac3d"/>
<circle cx="318" cy="107" r="2.05" fill="#24ac3d"/>
<circle cx="325" cy="106.25" r="2.05" fill="#24ac3d"/>
<circle cx="407.7" cy="88.3" r="2.05" fill="#fd8b06"/>
<circle cx="404.2" cy="95.7" r="2.05" fill="#fd8b06"/>
<circle cx="403.3" cy="100.9" r="2.05" fill="#fd8b06"/>
<circle cx="411.6" cy="100" r="2.05" fill="#fd8b06"/>
<circle cx="404.4" cy="102.4" r="2.05" fill="#fd8b06"/>
<circle cx="410.7" cy="101.7" r="2.05" fill="#fd8b06"/>
<circle cx="405.5" cy="103.9" r="2.05" fill="#fd8b06"/>
<circle cx="409.8" cy="103.4" r="2.05" fill="#fd8b06"/>
<circle cx="406.8" cy="106.5" r="2.05" fill="#fd8b06"/>
<circle cx="408.5" cy="106.6" r="2.05" fill="#fd8b06"/>
<circle cx="407.7" cy="108.6" r="2.05" fill="#fd8b06"/>
<circle cx="407.6" cy="104.5" r="2.05" fill="#fd8b06"/>
<circle cx="425.4" cy="109.9" r="2.05" fill="#5a1a74"/>
<circle cx="429.5" cy="109.2" r="2.05" fill="#5a1a74"/>
<circle cx="433.3" cy="113" r="2.05" fill="#5a1a74"/>
<circle cx="429.3" cy="116.8" r="2.05" fill="#5a1a74"/>
<circle cx="425.4" cy="122.5" r="2.05" fill="#5a1a74"/>
<circle cx="429.7" cy="124.2" r="2.05" fill="#5a1a74"/>
<circle cx="433.3" cy="122" r="2.05" fill="#5a1a74"/>
<circle cx="429.5" cy="135" r="2.05" fill="#5a1a74"/>
<circle cx="451.2" cy="63.5" r="2.05" fill="#d00a2e"/>
<circle cx="455" cy="80" r="2.05" fill="#d00a2e"/>
<circle cx="447.3" cy="85.4" r="2.05" fill="#d00a2e"/>
<circle cx="451.2" cy="86" r="2.05" fill="#d00a2e"/>
<circle cx="451.2" cy="99.7" r="2.05" fill="#d00a2e"/>
<circle cx="473" cy="55.4" r="2.05" fill="#084a8e"/>
<circle cx="469.2" cy="66.2" r="2.05" fill="#084a8e"/>
<circle cx="473.4" cy="72.7" r="2.05" fill="#084a8e"/>
<circle cx="476.2" cy="76.2" r="2.05" fill="#084a8e"/>
<circle cx="469.2" cy="80.1" r="2.05" fill="#084a8e"/>
<circle cx="476.6" cy="70.4" r="2.05" fill="#084a8e"/>
<circle cx="490.7" cy="55.4" r="2.05" fill="#24ac3d"/>
<circle cx="498.5" cy="54.5" r="2.05" fill="#24ac3d"/>
<circle cx="494.6" cy="58.4" r="2.05" fill="#24ac3d"/>
<circle cx="498" cy="73.8" r="2.05" fill="#24ac3d"/>
<circle cx="491.2" cy="77.3" r="2.05" fill="#24ac3d"/>
<circle cx="54.5" cy="225" r="2.05" fill="#fd8b06"/>
<circle cx="67.5" cy="225.5" r="2.05" fill="#fd8b06"/>
<circle cx="57" cy="227.5" r="2.05" fill="#fd8b06"/>
<circle cx="64.5" cy="227.5" r="2.05" fill="#fd8b06"/>
<circle cx="60.5" cy="226" r="2.05" fill="#fd8b06"/>
<circle cx="58.5" cy="230" r="2.05" fill="#fd8b06"/>
<circle cx="63" cy="230" r="2.05" fill="#fd8b06"/>
<circle cx="60" cy="232" r="2.05" fill="#fd8b06"/>
<circle cx="61.5" cy="233.5" r="2.05" fill="#fd8b06"/>
<circle cx="66" cy="226.5" r="2.05" fill="#fd8b06"/>
<circle cx="55.5" cy="226.5" r="2.05" fill="#fd8b06"/>
<circle cx="83" cy="240.75" r="2.05" fill="#5a1a74"/>
<circle cx="76.25" cy="264.5" r="2.05" fill="#5a1a74"/>
<circle cx="86.25" cy="257.5" r="2.05" fill="#5a1a74"/>
<circle cx="79.5" cy="271.25" r="2.05" fill="#5a1a74"/>
<circle cx="86.25" cy="277.5" r="2.05" fill="#5a1a74"/>
<circle cx="79.5" cy="287.5" r="2.05" fill="#5a1a74"/>
<circle cx="86.25" cy="289.25" r="2.05" fill="#5a1a74"/>
<circle cx="83" cy="291.75" r="2.05" fill="#5a1a74"/>
<circle cx="104.5" cy="295.5" r="2.05" fill="#d00a2e"/>
<circle cx="101.25" cy="310" r="2.05" fill="#d00a2e"/>
<circle cx="108" cy="310" r="2.05" fill="#d00a2e"/>
<circle cx="111.75" cy="315" r="2.05" fill="#d00a2e"/>
<circle cx="108" cy="320.5" r="2.05" fill="#d00a2e"/>
<circle cx="101.25" cy="323.25" r="2.05" fill="#d00a2e"/>
<circle cx="121.5" cy="334.5" r="2.05" fill="#084a8e"/>
<circle cx="124" cy="335" r="2.05" fill="#084a8e"/>
<circle cx="126.5" cy="335" r="2.05" fill="#084a8e"/>
<circle cx="129" cy="335" r="2.05" fill="#084a8e"/>
<circle cx="131.5" cy="334.5" r="2.05" fill="#084a8e"/>
<circle cx="123" cy="333.5" r="2.05" fill="#084a8e"/>
<circle cx="128" cy="333.5" r="2.05" fill="#084a8e"/>
<circle cx="144.5" cy="334.5" r="2.05" fill="#24ac3d"/>
<circle cx="147" cy="335" r="2.05" fill="#24ac3d"/>
<circle cx="149.5" cy="335" r="2.05" fill="#24ac3d"/>
<circle cx="152" cy="334.5" r="2.05" fill="#24ac3d"/>
<circle cx="146" cy="333.5" r="2.05" fill="#24ac3d"/>
<circle cx="150.5" cy="333.5" r="2.05" fill="#24ac3d"/>
<circle cx="229.2" cy="233.1" r="2.05" fill="#fd8b06"/>
<circle cx="235.4" cy="233.7" r="2.05" fill="#fd8b06"/>
<circle cx="232.5" cy="235.2" r="2.05" fill="#fd8b06"/>
<circle cx="232.5" cy="237.5" r="2.05" fill="#fd8b06"/>
<circle cx="251.3" cy="241.7" r="2.05" fill="#5a1a74"/>
<circle cx="251.3" cy="249" r="2.05" fill="#5a1a74"/>
<circle cx="248.5" cy="255.4" r="2.05" fill="#5a1a74"/>
<circle cx="254.6" cy="255.8" r="2.05" fill="#5a1a74"/>
<circle cx="247.9" cy="262.5" r="2.05" fill="#5a1a74"/>
<circle cx="250.8" cy="263.5" r="2.05" fill="#5a1a74"/>
<circle cx="254.2" cy="265" r="2.05" fill="#5a1a74"/>
<circle cx="249.5" cy="267" r="2.05" fill="#5a1a74"/>
<circle cx="252.7" cy="270.6" r="2.05" fill="#5a1a74"/>
<circle cx="251.3" cy="279.4" r="2.05" fill="#5a1a74"/>
<circle cx="270.4" cy="244.6" r="2.05" fill="#d00a2e"/>
<circle cx="267.1" cy="251.5" r="2.05" fill="#d00a2e"/>
<circle cx="273.5" cy="253.8" r="2.05" fill="#d00a2e"/>
<circle cx="267.7" cy="256.7" r="2.05" fill="#d00a2e"/>
<circle cx="266.2" cy="261.5" r="2.05" fill="#d00a2e"/>
<circle cx="274.4" cy="261.5" r="2.05" fill="#d00a2e"/>
<circle cx="270.4" cy="263.5" r="2.05" fill="#d00a2e"/>
<circle cx="271.5" cy="265.8" r="2.05" fill="#d00a2e"/>
<circle cx="267.1" cy="273.5" r="2.05" fill="#d00a2e"/>
<circle cx="272.9" cy="275.4" r="2.05" fill="#d00a2e"/>
<circle cx="270.4" cy="276.9" r="2.05" fill="#d00a2e"/>
<circle cx="289.2" cy="270.8" r="2.05" fill="#084a8e"/>
<circle cx="286.9" cy="273.1" r="2.05" fill="#084a8e"/>
<circle cx="292.7" cy="274" r="2.05" fill="#084a8e"/>
<circle cx="290.2" cy="277.9" r="2.05" fill="#084a8e"/>
<circle cx="287.3" cy="282.7" r="2.05" fill="#084a8e"/>
<circle cx="292.1" cy="282.7" r="2.05" fill="#084a8e"/>
<circle cx="286" cy="286.2" r="2.05" fill="#084a8e"/>
<circle cx="305.2" cy="276" r="2.05" fill="#24ac3d"/>
<circle cx="311.3" cy="276" r="2.05" fill="#24ac3d"/>
<circle cx="308.1" cy="282.7" r="2.05" fill="#24ac3d"/>
<circle cx="323.8" cy="318.6" r="2.05" fill="#fd8b06"/>
<circle cx="327.2" cy="321.5" r="2.05" fill="#fd8b06"/>
<circle cx="329.9" cy="321.5" r="2.05" fill="#fd8b06"/>
<circle cx="325.5" cy="320.8" r="2.05" fill="#fd8b06"/>
<circle cx="345.9" cy="283.8" r="2.05" fill="#5a1a74"/>
<circle cx="345.9" cy="291.2" r="2.05" fill="#5a1a74"/>
<circle cx="342" cy="294.6" r="2.05" fill="#5a1a74"/>
<circle cx="348.8" cy="294" r="2.05" fill="#5a1a74"/>
<circle cx="343" cy="297.9" r="2.05" fill="#5a1a74"/>
<circle cx="346.8" cy="298.8" r="2.05" fill="#5a1a74"/>
<circle cx="344.9" cy="300.8" r="2.05" fill="#5a1a74"/>
<circle cx="345.9" cy="314.6" r="2.05" fill="#5a1a74"/>
<circle cx="345.9" cy="323.5" r="2.05" fill="#5a1a74"/>
<circle cx="361.8" cy="283.5" r="2.05" fill="#d00a2e"/>
<circle cx="367.6" cy="285" r="2.05" fill="#d00a2e"/>
<circle cx="364.2" cy="288.3" r="2.05" fill="#d00a2e"/>
<circle cx="360.7" cy="297.9" r="2.05" fill="#d00a2e"/>
<circle cx="368.4" cy="298.8" r="2.05" fill="#d00a2e"/>
<circle cx="365.1" cy="300.8" r="2.05" fill="#d00a2e"/>
<circle cx="364.5" cy="304.2" r="2.05" fill="#d00a2e"/>
<circle cx="368" cy="306.5" r="2.05" fill="#d00a2e"/>
<circle cx="361.8" cy="313.3" r="2.05" fill="#d00a2e"/>
<circle cx="380.5" cy="279.6" r="2.05" fill="#084a8e"/>
<circle cx="386.3" cy="279.6" r="2.05" fill="#084a8e"/>
<circle cx="379.5" cy="287.7" r="2.05" fill="#084a8e"/>
<circle cx="386.8" cy="286.3" r="2.05" fill="#084a8e"/>
<circle cx="382.4" cy="291.5" r="2.05" fill="#084a8e"/>
<circle cx="384.5" cy="289" r="2.05" fill="#084a8e"/>
<circle cx="399.7" cy="280.6" r="2.05" fill="#24ac3d"/>
<circle cx="405.5" cy="283.1" r="2.05" fill="#24ac3d"/>
<circle cx="402.2" cy="287.3" r="2.05" fill="#24ac3d"/>
<circle cx="418.5" cy="333.5" r="2.05" fill="#fd8b06"/>
<circle cx="421.5" cy="333.5" r="2.05" fill="#fd8b06"/>
<circle cx="424.5" cy="333.5" r="2.05" fill="#fd8b06"/>
<circle cx="437" cy="327" r="2.05" fill="#5a1a74"/>
<circle cx="441" cy="326.5" r="2.05" fill="#5a1a74"/>
<circle cx="443.5" cy="328" r="2.05" fill="#5a1a74"/>
<circle cx="437.5" cy="330.5" r="2.05" fill="#5a1a74"/>
<circle cx="440" cy="331.5" r="2.05" fill="#5a1a74"/>
<circle cx="442.5" cy="331" r="2.05" fill="#5a1a74"/>
<circle cx="439" cy="333.5" r="2.05" fill="#5a1a74"/>
<circle cx="441" cy="333" r="2.05" fill="#5a1a74"/>
<circle cx="456" cy="326" r="2.05" fill="#d00a2e"/>
<circle cx="461" cy="326" r="2.05" fill="#d00a2e"/>
<circle cx="458.5" cy="328" r="2.05" fill="#d00a2e"/>
<circle cx="456.5" cy="330" r="2.05" fill="#d00a2e"/>
<circle cx="460.5" cy="330" r="2.05" fill="#d00a2e"/>
<circle cx="458.5" cy="332.5" r="2.05" fill="#d00a2e"/>
<circle cx="474.5" cy="325" r="2.05" fill="#084a8e"/>
<circle cx="478" cy="324.5" r="2.05" fill="#084a8e"/>
<circle cx="481" cy="325.5" r="2.05" fill="#084a8e"/>
<circle cx="475" cy="328.5" r="2.05" fill="#084a8e"/>
<circle cx="480" cy="328.5" r="2.05" fill="#084a8e"/>
<circle cx="477.5" cy="330" r="2.05" fill="#084a8e"/>
<circle cx="476.5" cy="333.5" r="2.05" fill="#084a8e"/>
<circle cx="494" cy="326" r="2.05" fill="#24ac3d"/>
<circle cx="499" cy="326" r="2.05" fill="#24ac3d"/>
<circle cx="496.5" cy="329.5" r="2.05" fill="#24ac3d"/>
<circle cx="403.75" cy="508" r="2.05" fill="#fd8b06"/>
<circle cx="403.75" cy="517.5" r="2.05" fill="#fd8b06"/>
<circle cx="425" cy="559.5" r="2.05" fill="#5a1a74"/>
<circle cx="422" cy="568.75" r="2.05" fill="#5a1a74"/>
<circle cx="428.25" cy="568.75" r="2.05" fill="#5a1a74"/>
<circle cx="447" cy="580.75" r="2.05" fill="#d00a2e"/>
<circle cx="443" cy="583.75" r="2.05" fill="#d00a2e"/>
<circle cx="450.5" cy="585" r="2.05" fill="#d00a2e"/>
<circle cx="447" cy="589.5" r="2.05" fill="#d00a2e"/>
<circle cx="465.5" cy="596" r="2.05" fill="#084a8e"/>
<circle cx="468.75" cy="593" r="2.05" fill="#084a8e"/>
<circle cx="472.5" cy="593" r="2.05" fill="#084a8e"/>
<circle cx="468.75" cy="598" r="2.05" fill="#084a8e"/>
<circle cx="471" cy="596.5" r="2.05" fill="#084a8e"/>
<circle cx="487.5" cy="595" r="2.05" fill="#24ac3d"/>
<circle cx="493" cy="593.75" r="2.05" fill="#24ac3d"/>
<defs><filter id="tx1" x="0" y="0" width="1" height="1" color-interpolation-filters="sRGB"><feTurbulence type="fractalNoise" baseFrequency="0.45" numOctaves="2" seed="5" result="n"/><feColorMatrix in="n" type="matrix" values="0.138 0 0 0 0.723  0.035 0 0 0 0.767  -0.190 0 0 0 0.895  0 0 0 0 1" result="m"/><feComposite in="m" in2="SourceGraphic" operator="in"/></filter><filter id="tx2" x="0" y="0" width="1" height="1" color-interpolation-filters="sRGB"><feTurbulence type="fractalNoise" baseFrequency="0.4" numOctaves="3" seed="8" result="n"/><feColorMatrix in="n" type="matrix" values="0.155 0 0 0 0.648  -0.104 0 0 0 0.730  -0.500 0 0 0 0.893  0 0 0 0 1" result="m"/><feComposite in="m" in2="SourceGraphic" operator="in"/></filter><filter id="tx3" x="0" y="0" width="1" height="1" color-interpolation-filters="sRGB"><feTurbulence type="fractalNoise" baseFrequency="0.5" numOctaves="2" seed="9" result="n"/><feColorMatrix in="n" type="matrix" values="0.031 0 0 0 0.788  -0.204 0 0 0 0.835  -0.502 0 0 0 0.886  0 0 0 0 1" result="m"/><feComposite in="m" in2="SourceGraphic" operator="in"/></filter><filter id="tx4" x="0" y="0" width="1" height="1" color-interpolation-filters="sRGB"><feTurbulence type="fractalNoise" baseFrequency="0.45" numOctaves="3" seed="12" result="n"/><feColorMatrix in="n" type="matrix" values="0.028 0 0 0 0.825  -0.127 0 0 0 0.848  -0.381 0 0 0 0.889  0 0 0 0 1" result="m"/><feComposite in="m" in2="SourceGraphic" operator="in"/></filter><filter id="tx5" x="0" y="0" width="1" height="1" color-interpolation-filters="sRGB"><feTurbulence type="fractalNoise" baseFrequency="0.13" numOctaves="3" seed="13" result="n"/><feColorMatrix in="n" type="matrix" values="-0.121 0 0 0 0.951  -0.209 0 0 0 0.932  -0.329 0 0 0 0.871  0 0 0 0 1" result="m"/><feComposite in="m" in2="SourceGraphic" operator="in"/></filter></defs>
<defs>
<filter id="mot" x="0" y="0" width="1" height="1"><feTurbulence type="fractalNoise" baseFrequency="0.5" numOctaves="2" seed="3" result="n"/>
<feColorMatrix in="n" type="matrix" values="0 0 0 0 0.45  0 0 0 0 0.38  0 0 0 0 0.35  0 0 0 -2.4 1.45" result="m"/>
<feComposite in="m" in2="SourceGraphic" operator="in"/></filter>
<filter id="motl" x="0" y="0" width="1" height="1"><feTurbulence type="fractalNoise" baseFrequency="0.5" numOctaves="2" seed="11" result="n"/>
<feColorMatrix in="n" type="matrix" values="0 0 0 0 1  0 0 0 0 1  0 0 0 0 1  0 0 0 -2.4 1.45" result="m"/>
<feComposite in="m" in2="SourceGraphic" operator="in"/></filter>
<filter id="mot2" x="0" y="0" width="1" height="1"><feTurbulence type="fractalNoise" baseFrequency="0.12" numOctaves="2" seed="7" result="n"/>
<feColorMatrix in="n" type="matrix" values="0 0 0 0 0.55  0 0 0 0 0.33  0 0 0 0 0.12  0 0 0 -3 1.75" result="m"/>
<feComposite in="m" in2="SourceGraphic" operator="in"/></filter>
<filter id="bl"><feGaussianBlur stdDeviation="0.35"/></filter>
<clipPath id="c1"><rect x="54.8" y="381" width="90" height="67.8"/></clipPath>
<clipPath id="c2"><rect x="146.8" y="381" width="90.4" height="67.8"/></clipPath>
<clipPath id="c3"><rect x="239.3" y="381" width="89.9" height="67.8"/></clipPath>
<clipPath id="c4"><rect x="331.2" y="381" width="89.8" height="67.8"/></clipPath>
<clipPath id="c5"><rect x="423" y="381" width="91" height="67.8"/></clipPath>
</defs>
<rect x="54.8" y="381.0" width="90" height="67.8" fill="#fdf6dc"/>
<rect x="146.8" y="381.0" width="90.4" height="67.8" fill="#fdf6dc"/>
<rect x="239.3" y="381.0" width="89.9" height="67.8" fill="#fdf6dc"/>
<rect x="331.2" y="381.0" width="89.8" height="67.8" fill="#fdf6dc"/>
<rect x="423" y="381.0" width="91" height="67.8" fill="#fdf6dc"/>
<g clip-path="url(#c1)"><path d="M54.8 414.6C56 414.47 59.13 414.13 62 413.8C64.87 413.47 67.33 413.17 72 412.6C76.67 412.03 85.33 411.03 90 410.4C94.67 409.77 97 409.33 100 408.8C103 408.27 105.33 407.73 108 407.2C110.67 406.67 113.33 406.3 116 405.6C118.67 404.9 121.67 403.9 124 403C126.33 402.1 128 401.27 130 400.2C132 399.13 134.33 397.63 136 396.6C137.67 395.57 138.53 395.02 140 394C141.47 392.98 144 391.08 144.8 390.5L144.8 418.2C143.67 418.9 140.3 421.07 138 422.4C135.7 423.73 133.33 425.03 131 426.2C128.67 427.37 126.33 428.38 124 429.4C121.67 430.42 119.67 431.4 117 432.3C114.33 433.2 110.83 434.22 108 434.8C105.17 435.38 103 435.57 100 435.8C97 436.03 94.67 436.47 90 436.2C85.33 435.93 76.67 435 72 434.2C67.33 433.4 64.87 432.43 62 431.4C59.13 430.37 56 428.57 54.8 428Z" fill="#000" filter="url(#tx1)"/>
<path d="M138 381L144.8 381L144.8 384.5Z" fill="#b8bcc4"/>
<path d="M84 393.5 q5 -2.5 11 -2" stroke="#e8cdb6" stroke-width="1.1" fill="none"/>
<ellipse cx="68.8" cy="427.2" rx="3.9" ry="2.2" fill="#5e2e0c" filter="url(#bl)" transform="rotate(20 68.8 427.2)"/>
<ellipse cx="78.9" cy="429.7" rx="2.1" ry="2.8" fill="#5e2e0c" filter="url(#bl)"/>
<ellipse cx="98.8" cy="417.4" rx="1.8" ry="1.7" fill="#5e2e0c" filter="url(#bl)"/>
<ellipse cx="103.8" cy="421.1" rx="2" ry="1.9" fill="#5e2e0c" filter="url(#bl)"/>
<ellipse cx="106.6" cy="426.6" rx="3.1" ry="2" fill="#5e2e0c" filter="url(#bl)" transform="rotate(5 106.6 426.6)"/>
<ellipse cx="102" cy="426.2" rx="1.4" ry="1.3" fill="#5e2e0c" filter="url(#bl)"/>
<ellipse cx="126.5" cy="417.9" rx="3.6" ry="2.6" fill="#5e2e0c" filter="url(#bl)" transform="rotate(-20 126.5 417.9)"/>
<ellipse cx="139.4" cy="414.2" rx="2.9" ry="2.3" fill="#5e2e0c" filter="url(#bl)" transform="rotate(-10 139.4 414.2)"/>
<ellipse cx="110.8" cy="415.5" rx="1.1" ry="1" fill="#5e2e0c" filter="url(#bl)"/>
<ellipse cx="121.5" cy="414.9" rx="1" ry="1" fill="#5e2e0c" filter="url(#bl)"/>
<ellipse cx="123.7" cy="416.2" rx="1.6" ry="1.5" fill="#5e2e0c" filter="url(#bl)"/>
<ellipse cx="73" cy="422" rx="2.3" ry="2.4" fill="#a8855e" stroke="#5e2e0c" stroke-width="1.6" filter="url(#bl)"/>
<ellipse cx="81" cy="421" rx="2.8" ry="2.2" fill="#a8855e" stroke="#5e2e0c" stroke-width="1.6" filter="url(#bl)"/>
<ellipse cx="90.4" cy="421.6" rx="2.4" ry="2.6" fill="#a8855e" stroke="#5e2e0c" stroke-width="1.5" filter="url(#bl)" transform="rotate(-15 90.4 421.6)"/>
<ellipse cx="92.2" cy="428.4" rx="2.6" ry="2.8" fill="#a8855e" stroke="#5e2e0c" stroke-width="1.6" filter="url(#bl)" transform="rotate(20 92.2 428.4)"/>
<ellipse cx="114.9" cy="422" rx="2.2" ry="1.7" fill="#a8855e" stroke="#5e2e0c" stroke-width="1.5" filter="url(#bl)"/>
<ellipse cx="133.4" cy="410.9" rx="2.4" ry="2" fill="#a8855e" stroke="#5e2e0c" stroke-width="1.5" filter="url(#bl)"/>
<ellipse cx="130.4" cy="416.4" rx="2.2" ry="2" fill="#a8855e" stroke="#5e2e0c" stroke-width="1.3" filter="url(#bl)"/>
</g>
<g clip-path="url(#c2)"><path d="M146.8 393.6C147.67 393.6 149.8 393.37 152 393.6C154.2 393.83 157 394.37 160 395C163 395.63 166.67 396.77 170 397.4C173.33 398.03 176.67 398.55 180 398.8C183.33 399.05 186.67 399.07 190 398.9C193.33 398.73 196.67 398.4 200 397.8C203.33 397.2 206.67 396.22 210 395.3C213.33 394.38 217 393.18 220 392.3C223 391.42 225.13 390.85 228 390C230.87 389.15 235.67 387.67 237.2 387.2L237.2 417.5C236 418.58 232.52 422.3 230 424C227.48 425.7 225.78 426.35 222.1 427.7C218.42 429.05 212.92 431.07 207.9 432.1C202.88 433.13 196.42 433.75 192 433.9C187.58 434.05 186.12 433.6 181.4 433C176.68 432.4 169.47 431.38 163.7 430.3C157.93 429.22 149.62 427.13 146.8 426.5Z" fill="#000" filter="url(#tx2)"/>
<path d="M232.5 381L237.2 381L237.2 385.5Z" fill="#c9cbd2"/>
<ellipse cx="214.5" cy="420" rx="2" ry="1.8" fill="#d8d2cc" filter="url(#bl)" opacity="0.8"/>
<ellipse cx="193.7" cy="416.3" rx="1.8" ry="1.6" fill="#d8d2cc" filter="url(#bl)" opacity="0.8"/>
<ellipse cx="172" cy="421" rx="1.6" ry="1.6" fill="#d8d2cc" filter="url(#bl)" opacity="0.8"/>
<ellipse cx="184" cy="418.7" rx="1.7" ry="1.7" fill="#d8d2cc" filter="url(#bl)" opacity="0.8"/>
<ellipse cx="156.2" cy="417.4" rx="2" ry="2.4" fill="#5a2c0a" filter="url(#bl)"/>
<ellipse cx="161" cy="413.9" rx="1.5" ry="1.4" fill="#8a5a30" filter="url(#bl)"/>
<ellipse cx="172.5" cy="414.3" rx="1.5" ry="1.4" fill="#8a5a30" filter="url(#bl)"/>
<ellipse cx="168.1" cy="424" rx="1.3" ry="1.3" fill="#6e3c14" filter="url(#bl)"/>
<ellipse cx="173.4" cy="418.7" rx="1.2" ry="1.2" fill="#8a5a30" filter="url(#bl)"/>
<ellipse cx="186.3" cy="408.6" rx="1.4" ry="1.4" fill="#9a6a40" filter="url(#bl)"/>
<ellipse cx="200.6" cy="406.6" rx="2.8" ry="1.7" fill="#4e2606" filter="url(#bl)"/>
<ellipse cx="211.2" cy="408" rx="2.5" ry="1.6" fill="#4e2606" filter="url(#bl)"/>
<ellipse cx="199.2" cy="412.6" rx="1.5" ry="1.3" fill="#5e300c" filter="url(#bl)"/>
<ellipse cx="222.8" cy="401.5" rx="2.1" ry="1.9" fill="#4e2606" filter="url(#bl)"/>
<ellipse cx="229.2" cy="395.5" rx="2.3" ry="1.6" fill="#4e2606" filter="url(#bl)"/>
<ellipse cx="195.1" cy="420" rx="1.3" ry="1.3" fill="#6e3c14" filter="url(#bl)"/>
<ellipse cx="196" cy="423.2" rx="1.2" ry="1.3" fill="#6e3c14" filter="url(#bl)"/>
<ellipse cx="235.7" cy="419.1" rx="1.4" ry="2" fill="#6e3c14" filter="url(#bl)"/>
<ellipse cx="151" cy="421" rx="1.2" ry="1.2" fill="#8a5a30" filter="url(#bl)"/>
</g>
<g clip-path="url(#c3)"><path d="M239.3 391.6C240.75 391.83 245.05 392.18 248 393C250.95 393.82 254 395.25 257 396.5C260 397.75 263 399.25 266 400.5C269 401.75 271.83 403.18 275 404C278.17 404.82 281.83 405.35 285 405.4C288.17 405.45 291.5 405.03 294 404.3C296.5 403.57 298.25 402.35 300 401C301.75 399.65 303.37 397.9 304.5 396.2C305.63 394.5 306.52 392.78 306.8 390.8C307.08 388.82 306.5 385.93 306.2 384.3C305.9 382.67 305.2 381.55 305 381L329.2 381L329.2 426.5C327.33 427.17 321.2 429.42 318 430.5C314.8 431.58 313 432.25 310 433C307 433.75 304.17 434.58 300 435C295.83 435.42 289.17 435.58 285 435.5C280.83 435.42 279.67 435.25 275 434.5C270.33 433.75 262.95 432.33 257 431C251.05 429.67 242.25 427.25 239.3 426.5Z" fill="#000" filter="url(#tx3)"/>
<path d="M302 381 Q305 386 308 389" stroke="#fbf3e0" stroke-width="1.2" fill="none"/>
<path d="M305 449 L306 443 L310 440 L314 442 L318 438.5 L322 441 L326 439 L329.2 441 L329.2 449Z" fill="#e4e0d8"/>
<ellipse cx="278.5" cy="396.8" rx="6.5" ry="3" fill="none" stroke="#efe0c8" stroke-width="0.8"/>
<ellipse cx="246.5" cy="397" rx="1.6" ry="1.4" fill="#a06a3a" filter="url(#bl)" opacity="0.6"/>
<ellipse cx="251.4" cy="401.4" rx="1.6" ry="1.3" fill="#a06a3a" filter="url(#bl)" opacity="0.6"/>
<ellipse cx="259.4" cy="401" rx="1.4" ry="1.3" fill="#a06a3a" filter="url(#bl)" opacity="0.6"/>
<ellipse cx="247.8" cy="414.2" rx="1.6" ry="1.5" fill="#a06a3a" filter="url(#bl)" opacity="0.6"/>
<ellipse cx="262.9" cy="417.7" rx="2.2" ry="1.5" fill="#a06a3a" filter="url(#bl)" opacity="0.6"/>
<ellipse cx="282.4" cy="417.7" rx="2.3" ry="1.9" fill="#a06a3a" filter="url(#bl)" opacity="0.6"/>
<ellipse cx="269.1" cy="422.2" rx="1.5" ry="1.4" fill="#a06a3a" filter="url(#bl)" opacity="0.6"/>
<ellipse cx="244.3" cy="403.6" rx="1.3" ry="1.2" fill="#a06a3a" filter="url(#bl)" opacity="0.6"/>
<ellipse cx="320.3" cy="396.2" rx="1.8" ry="1.8" fill="#a06a3a" filter="url(#bl)" opacity="0.6"/>
<ellipse cx="314.3" cy="402.2" rx="1.2" ry="1.2" fill="#a06a3a" filter="url(#bl)" opacity="0.6"/>
<ellipse cx="324" cy="423.2" rx="1.4" ry="1.4" fill="#a06a3a" filter="url(#bl)" opacity="0.6"/>
<ellipse cx="314.3" cy="421.1" rx="1.8" ry="1.6" fill="#a06a3a" filter="url(#bl)" opacity="0.6"/>
<ellipse cx="299.2" cy="425.4" rx="2.8" ry="1.5" fill="#a06a3a" filter="url(#bl)" opacity="0.6"/>
<ellipse cx="306.8" cy="417.8" rx="1.4" ry="1.3" fill="#a06a3a" filter="url(#bl)" opacity="0.6"/>
<ellipse cx="296" cy="427.5" rx="1.3" ry="1.2" fill="#a06a3a" filter="url(#bl)" opacity="0.6"/>
<ellipse cx="284" cy="417.8" rx="1.4" ry="1.4" fill="#a06a3a" filter="url(#bl)" opacity="0.6"/>
<ellipse cx="293.8" cy="414.6" rx="1.4" ry="1.3" fill="#a06a3a" filter="url(#bl)" opacity="0.6"/>
<ellipse cx="253" cy="420" rx="2" ry="1.6" fill="#a06a3a" filter="url(#bl)" opacity="0.6"/>
<ellipse cx="276" cy="426" rx="1.8" ry="1.5" fill="#a06a3a" filter="url(#bl)" opacity="0.6"/>
<ellipse cx="288" cy="424" rx="2" ry="1.6" fill="#a06a3a" filter="url(#bl)" opacity="0.6"/>
<ellipse cx="309" cy="427" rx="1.8" ry="1.5" fill="#a06a3a" filter="url(#bl)" opacity="0.6"/>
<ellipse cx="318" cy="417" rx="1.8" ry="1.6" fill="#a06a3a" filter="url(#bl)" opacity="0.6"/>
<ellipse cx="270" cy="412" rx="1.6" ry="1.4" fill="#a06a3a" filter="url(#bl)" opacity="0.6"/>
<ellipse cx="241" cy="418" rx="1.5" ry="1.5" fill="#a06a3a" filter="url(#bl)" opacity="0.6"/>
<ellipse cx="256" cy="408" rx="1.5" ry="1.4" fill="#a06a3a" filter="url(#bl)" opacity="0.6"/>
<ellipse cx="303" cy="409" rx="1.6" ry="1.4" fill="#a06a3a" filter="url(#bl)" opacity="0.6"/>
<ellipse cx="326" cy="412" rx="1.5" ry="1.5" fill="#a06a3a" filter="url(#bl)" opacity="0.6"/>
</g>
<g clip-path="url(#c4)"><path d="M331.2 391.8C333.5 391.97 340.2 392.63 345 392.8C349.8 392.97 356.4 393.35 360 392.8C363.6 392.25 364.6 390.72 366.6 389.5C368.6 388.28 370.27 386.67 372 385.5C373.73 384.33 375.43 383.25 377 382.5C378.57 381.75 380.67 381.25 381.4 381L421.3 381L421.3 431.5C418.25 432.43 410.72 435.25 403 437.1C395.28 438.95 384.25 441.37 375 442.6C365.75 443.83 354.8 444.35 347.5 444.5C340.2 444.65 333.92 443.67 331.2 443.5Z" fill="#000" filter="url(#tx4)"/>
<ellipse cx="354" cy="381.2" rx="5.2" ry="3.2" fill="#e4e2de"/>
</g>
<g clip-path="url(#c5)"><path d="M423 383C425.83 383.42 434.5 384.83 440 385.5C445.5 386.17 450.67 386.78 456 387C461.33 387.22 467 386.97 472 386.8C477 386.63 481.33 386.37 486 386C490.67 385.63 495.33 385.1 500 384.6C504.67 384.1 511.67 383.27 514 383L514 439C510.83 439.5 501.33 441.17 495 442C488.67 442.83 481.67 443.58 476 444C470.33 444.42 466 444.5 461 444.5C456 444.5 450.5 444.83 446 444C441.5 443.17 437.83 441.33 434 439.5C430.17 437.67 424.83 434.08 423 433Z" fill="#000" filter="url(#tx5)"/>
</g>
<defs><filter id="bb" x="-10%" y="-60%" width="120%" height="220%"><feGaussianBlur stdDeviation="0.9 0.75"/></filter>
<filter id="bb2" x="-10%" y="-60%" width="120%" height="220%"><feGaussianBlur stdDeviation="0.6 0.45"/></filter>
<linearGradient id="pg" x1="0" y1="0" x2="0" y2="1"><stop offset="0" stop-color="#d9d9d9"/><stop offset="0.6" stop-color="#d5d5d5"/><stop offset="1" stop-color="#d0d0d0"/></linearGradient></defs>
<rect x="62.4" y="549.3" width="251.4" height="21.4" fill="url(#pg)"/>
<rect x="62.4" y="576.8" width="251.4" height="21.1" fill="#d6d6d6"/>
<rect x="82" y="549.3" width="3" height="21.4" fill="#dddddd" opacity="0.45"/>
<rect x="82" y="576.8" width="3" height="21.1" fill="#dcdcdc" opacity="0.3"/>
<rect x="98.8" y="549.3" width="3" height="21.4" fill="#dddddd" opacity="0.45"/>
<rect x="98.8" y="576.8" width="3" height="21.1" fill="#dcdcdc" opacity="0.3"/>
<rect x="114.5" y="549.3" width="3" height="21.4" fill="#dddddd" opacity="0.45"/>
<rect x="114.5" y="576.8" width="3" height="21.1" fill="#dcdcdc" opacity="0.3"/>
<rect x="130" y="549.3" width="3" height="21.4" fill="#dddddd" opacity="0.45"/>
<rect x="130" y="576.8" width="3" height="21.1" fill="#dcdcdc" opacity="0.3"/>
<rect x="146.1" y="549.3" width="3" height="21.4" fill="#dddddd" opacity="0.45"/>
<rect x="146.1" y="576.8" width="3" height="21.1" fill="#dcdcdc" opacity="0.3"/>
<rect x="163" y="549.3" width="3" height="21.4" fill="#dddddd" opacity="0.45"/>
<rect x="163" y="576.8" width="3" height="21.1" fill="#dcdcdc" opacity="0.3"/>
<rect x="179.7" y="549.3" width="3" height="21.4" fill="#dddddd" opacity="0.45"/>
<rect x="179.7" y="576.8" width="3" height="21.1" fill="#dcdcdc" opacity="0.3"/>
<rect x="197.3" y="549.3" width="3" height="21.4" fill="#dddddd" opacity="0.45"/>
<rect x="197.3" y="576.8" width="3" height="21.1" fill="#dcdcdc" opacity="0.3"/>
<rect x="214.3" y="549.3" width="3" height="21.4" fill="#dddddd" opacity="0.45"/>
<rect x="214.3" y="576.8" width="3" height="21.1" fill="#dcdcdc" opacity="0.3"/>
<rect x="230.5" y="549.3" width="3" height="21.4" fill="#dddddd" opacity="0.45"/>
<rect x="230.5" y="576.8" width="3" height="21.1" fill="#dcdcdc" opacity="0.3"/>
<rect x="245.3" y="549.3" width="3" height="21.4" fill="#dddddd" opacity="0.45"/>
<rect x="245.3" y="576.8" width="3" height="21.1" fill="#dcdcdc" opacity="0.3"/>
<rect x="260.1" y="549.3" width="3" height="21.4" fill="#dddddd" opacity="0.45"/>
<rect x="260.1" y="576.8" width="3" height="21.1" fill="#dcdcdc" opacity="0.3"/>
<rect x="275.3" y="549.3" width="3" height="21.4" fill="#dddddd" opacity="0.45"/>
<rect x="275.3" y="576.8" width="3" height="21.1" fill="#dcdcdc" opacity="0.3"/>
<rect x="291.2" y="549.3" width="3" height="21.4" fill="#dddddd" opacity="0.45"/>
<rect x="291.2" y="576.8" width="3" height="21.1" fill="#dcdcdc" opacity="0.3"/>
<line x1="67" y1="543.1" x2="98.7" y2="543.1" stroke="#3a3a3a" stroke-width="1.1"/>
<line x1="103.8" y1="543.1" x2="143.7" y2="543.1" stroke="#3a3a3a" stroke-width="1.1"/>
<line x1="148.7" y1="543.1" x2="211.8" y2="543.1" stroke="#3a3a3a" stroke-width="1.1"/>
<line x1="216.3" y1="543.1" x2="273.7" y2="543.1" stroke="#3a3a3a" stroke-width="1.1"/>
<line x1="278.3" y1="543.1" x2="307.9" y2="543.1" stroke="#3a3a3a" stroke-width="1.1"/>
<text x="82.9" y="536" font-size="8.5" fill="#231f20" stroke="#231f20" stroke-width="0.15" transform="rotate(-45 82.9 536)">WT</text>
<text x="123.75" y="536" font-size="8.5" fill="#231f20" stroke="#231f20" stroke-width="0.15" transform="rotate(-45 123.75 536)">MYC</text>
<text x="180.3" y="536" font-size="8.5" fill="#231f20" stroke="#231f20" stroke-width="0.15" transform="rotate(-45 180.3 536)">1 MYC</text>
<text x="245" y="536" font-size="8.5" fill="#231f20" stroke="#231f20" stroke-width="0.15" transform="rotate(-45 245 536)">2A MYC</text>
<text x="293.1" y="536" font-size="8.5" fill="#231f20" stroke="#231f20" stroke-width="0.15" transform="rotate(-45 293.1 536)">1/2A MYC</text>
<text x="59" y="562.7" font-size="9" text-anchor="end" fill="#231f20" stroke="#231f20" stroke-width="0.15">p27</text>
<text x="59.2" y="590.4" font-size="9" text-anchor="end" textLength="25.2" lengthAdjust="spacingAndGlyphs" fill="#231f20" stroke="#231f20" stroke-width="0.15">Gapdh</text>
<g filter="url(#bb)">
<line x1="68.6" y1="555.7" x2="79.6" y2="558.4" stroke="#0c0c0c" stroke-width="5.4" stroke-linecap="round" opacity="1"/>
<line x1="87.6" y1="558.4" x2="96.2" y2="560.6" stroke="#111" stroke-width="5.4" stroke-linecap="round" opacity="1"/>
<line x1="86.5" y1="563.5" x2="97" y2="564.5" stroke="#888" stroke-width="1.8" stroke-linecap="round" opacity="0.8"/>
<line x1="103.5" y1="560.8" x2="111.1" y2="560.8" stroke="#4a4a4a" stroke-width="2.6" stroke-linecap="round" opacity="1"/>
<line x1="103.3" y1="564" x2="111.3" y2="564" stroke="#a4a4a4" stroke-width="2.6" stroke-linecap="round" opacity="0.7"/>
<line x1="119.5" y1="561.5" x2="127.1" y2="561.5" stroke="#2a2a2a" stroke-width="2.6" stroke-linecap="round" opacity="1"/>
<line x1="119.3" y1="564.7" x2="127.3" y2="564.7" stroke="#a4a4a4" stroke-width="2.6" stroke-linecap="round" opacity="0.7"/>
<line x1="135" y1="562" x2="143.8" y2="562" stroke="#333" stroke-width="2.6" stroke-linecap="round" opacity="1"/>
<line x1="134.8" y1="565.2" x2="144" y2="565.2" stroke="#a4a4a4" stroke-width="2.6" stroke-linecap="round" opacity="0.7"/>
<line x1="151.2" y1="562.9" x2="160.8" y2="562.9" stroke="#555" stroke-width="2.6" stroke-linecap="round" opacity="1"/>
<line x1="151" y1="566.1" x2="161" y2="566.1" stroke="#a4a4a4" stroke-width="2.6" stroke-linecap="round" opacity="0.7"/>
<line x1="168.3" y1="562.9" x2="176.7" y2="562.9" stroke="#4a4a4a" stroke-width="2.6" stroke-linecap="round" opacity="1"/>
<line x1="168.1" y1="566.1" x2="176.9" y2="566.1" stroke="#a4a4a4" stroke-width="2.6" stroke-linecap="round" opacity="0.7"/>
<line x1="185.4" y1="563.2" x2="194.6" y2="563.2" stroke="#505050" stroke-width="2.6" stroke-linecap="round" opacity="1"/>
<line x1="185.2" y1="566.4" x2="194.8" y2="566.4" stroke="#a4a4a4" stroke-width="2.6" stroke-linecap="round" opacity="0.7"/>
<line x1="202.8" y1="563.5" x2="212.4" y2="563.5" stroke="#555" stroke-width="2.6" stroke-linecap="round" opacity="1"/>
<line x1="202.6" y1="566.7" x2="212.6" y2="566.7" stroke="#a4a4a4" stroke-width="2.6" stroke-linecap="round" opacity="0.7"/>
<line x1="219.5" y1="563.5" x2="227.9" y2="563.5" stroke="#6a6a6a" stroke-width="2.6" stroke-linecap="round" opacity="1"/>
<line x1="219.3" y1="566.7" x2="228.1" y2="566.7" stroke="#a4a4a4" stroke-width="2.6" stroke-linecap="round" opacity="0.7"/>
<line x1="235.6" y1="563.6" x2="243.2" y2="563.6" stroke="#4e4e4e" stroke-width="2.6" stroke-linecap="round" opacity="1"/>
<line x1="235.4" y1="566.8" x2="243.4" y2="566.8" stroke="#a4a4a4" stroke-width="2.6" stroke-linecap="round" opacity="0.7"/>
<line x1="250" y1="564" x2="257.6" y2="564" stroke="#5a5a5a" stroke-width="2.6" stroke-linecap="round" opacity="1"/>
<line x1="249.8" y1="567.2" x2="257.8" y2="567.2" stroke="#a4a4a4" stroke-width="2.6" stroke-linecap="round" opacity="0.7"/>
<line x1="265.2" y1="564" x2="272.8" y2="564" stroke="#6e6e6e" stroke-width="2.6" stroke-linecap="round" opacity="1"/>
<line x1="265" y1="567.2" x2="273" y2="567.2" stroke="#a4a4a4" stroke-width="2.6" stroke-linecap="round" opacity="0.7"/>
<line x1="280.5" y1="563.27" x2="288.9" y2="561.93" stroke="#3e3e3e" stroke-width="2.6" stroke-linecap="round" opacity="1"/>
<line x1="280.3" y1="566.47" x2="289.1" y2="565.13" stroke="#a4a4a4" stroke-width="2.6" stroke-linecap="round" opacity="0.7"/>
<line x1="296.4" y1="562.52" x2="305.6" y2="559.88" stroke="#808080" stroke-width="2.6" stroke-linecap="round" opacity="1"/>
<line x1="296.2" y1="565.72" x2="305.8" y2="563.08" stroke="#a4a4a4" stroke-width="2.6" stroke-linecap="round" opacity="0.7"/>
<line x1="67.5" y1="582.1" x2="81.5" y2="584.3" stroke="#1e1e1e" stroke-width="2.1" stroke-linecap="round" opacity="1"/>
<line x1="85.5" y1="584.6" x2="97.6" y2="586.5" stroke="#2a2a2a" stroke-width="2.1" stroke-linecap="round" opacity="1"/>
<line x1="103.2" y1="586.3" x2="113.2" y2="586.3" stroke="#0a0a0a" stroke-width="2.8" stroke-linecap="round" opacity="1"/>
<line x1="119.2" y1="587.2" x2="129.2" y2="587.2" stroke="#0a0a0a" stroke-width="2.8" stroke-linecap="round" opacity="1"/>
<line x1="134.4" y1="587.7" x2="145.2" y2="587.7" stroke="#0a0a0a" stroke-width="2.8" stroke-linecap="round" opacity="1"/>
<line x1="151" y1="587.8" x2="162.2" y2="587.8" stroke="#0a0a0a" stroke-width="2.8" stroke-linecap="round" opacity="1"/>
<line x1="167.5" y1="588" x2="179.1" y2="588" stroke="#0a0a0a" stroke-width="2.8" stroke-linecap="round" opacity="1"/>
<line x1="184" y1="588" x2="196" y2="588" stroke="#0a0a0a" stroke-width="2.8" stroke-linecap="round" opacity="1"/>
<line x1="202.1" y1="588" x2="213.3" y2="588" stroke="#0a0a0a" stroke-width="2.8" stroke-linecap="round" opacity="1"/>
<line x1="218.2" y1="588.3" x2="229" y2="588.3" stroke="#0a0a0a" stroke-width="2.8" stroke-linecap="round" opacity="1"/>
<line x1="234.2" y1="589.4" x2="244.6" y2="589.4" stroke="#0a0a0a" stroke-width="2.8" stroke-linecap="round" opacity="1"/>
<line x1="249.4" y1="589.4" x2="259.8" y2="589.4" stroke="#0a0a0a" stroke-width="2.8" stroke-linecap="round" opacity="1"/>
<line x1="264.6" y1="588.9" x2="275" y2="588.9" stroke="#0a0a0a" stroke-width="2.8" stroke-linecap="round" opacity="1"/>
<line x1="280.1" y1="588.31" x2="290.9" y2="587.29" stroke="#0a0a0a" stroke-width="2.8" stroke-linecap="round" opacity="1"/>
<line x1="296.1" y1="587.24" x2="307.1" y2="585.16" stroke="#0a0a0a" stroke-width="2.8" stroke-linecap="round" opacity="1"/>
</g>
<text x="7.1" y="388" font-size="10.5" text-anchor="start" font-weight="bold" fill="#231f20" stroke="#231f20" stroke-width="0.12">F</text>
<text x="30" y="417.8" font-size="9" text-anchor="start" fill="#231f20" stroke="#231f20" stroke-width="0.12">B220</text>
<text x="99.8" y="459.9" font-size="9.5" text-anchor="middle" fill="#231f20" stroke="#231f20" stroke-width="0.12">WT</text>
<text x="192" y="459.9" font-size="9.5" text-anchor="middle" fill="#231f20" stroke="#231f20" stroke-width="0.12">MYC</text>
<text x="284.2" y="459.9" font-size="9.5" text-anchor="middle" fill="#231f20" stroke="#231f20" stroke-width="0.12">1 MYC</text>
<text x="376.1" y="459.9" font-size="9.5" text-anchor="middle" fill="#231f20" stroke="#231f20" stroke-width="0.12">2A MYC</text>
<text x="468.5" y="459.9" font-size="9.5" text-anchor="middle" fill="#231f20" stroke="#231f20" stroke-width="0.12">1/2A MYC</text>
<text x="7.1" y="487" font-size="10.5" text-anchor="start" font-weight="bold" fill="#231f20" stroke="#231f20" stroke-width="0.12">G</text>
<rect x="0" y="0" width="520" height="1.1" fill="#000"/><rect x="0" y="0" width="1.05" height="648" fill="#000"/><rect x="518.9" y="0" width="1.1" height="648" fill="#000"/><rect x="0" y="646.8" width="520" height="1.2" fill="#000"/>
</svg>
</body></html>
